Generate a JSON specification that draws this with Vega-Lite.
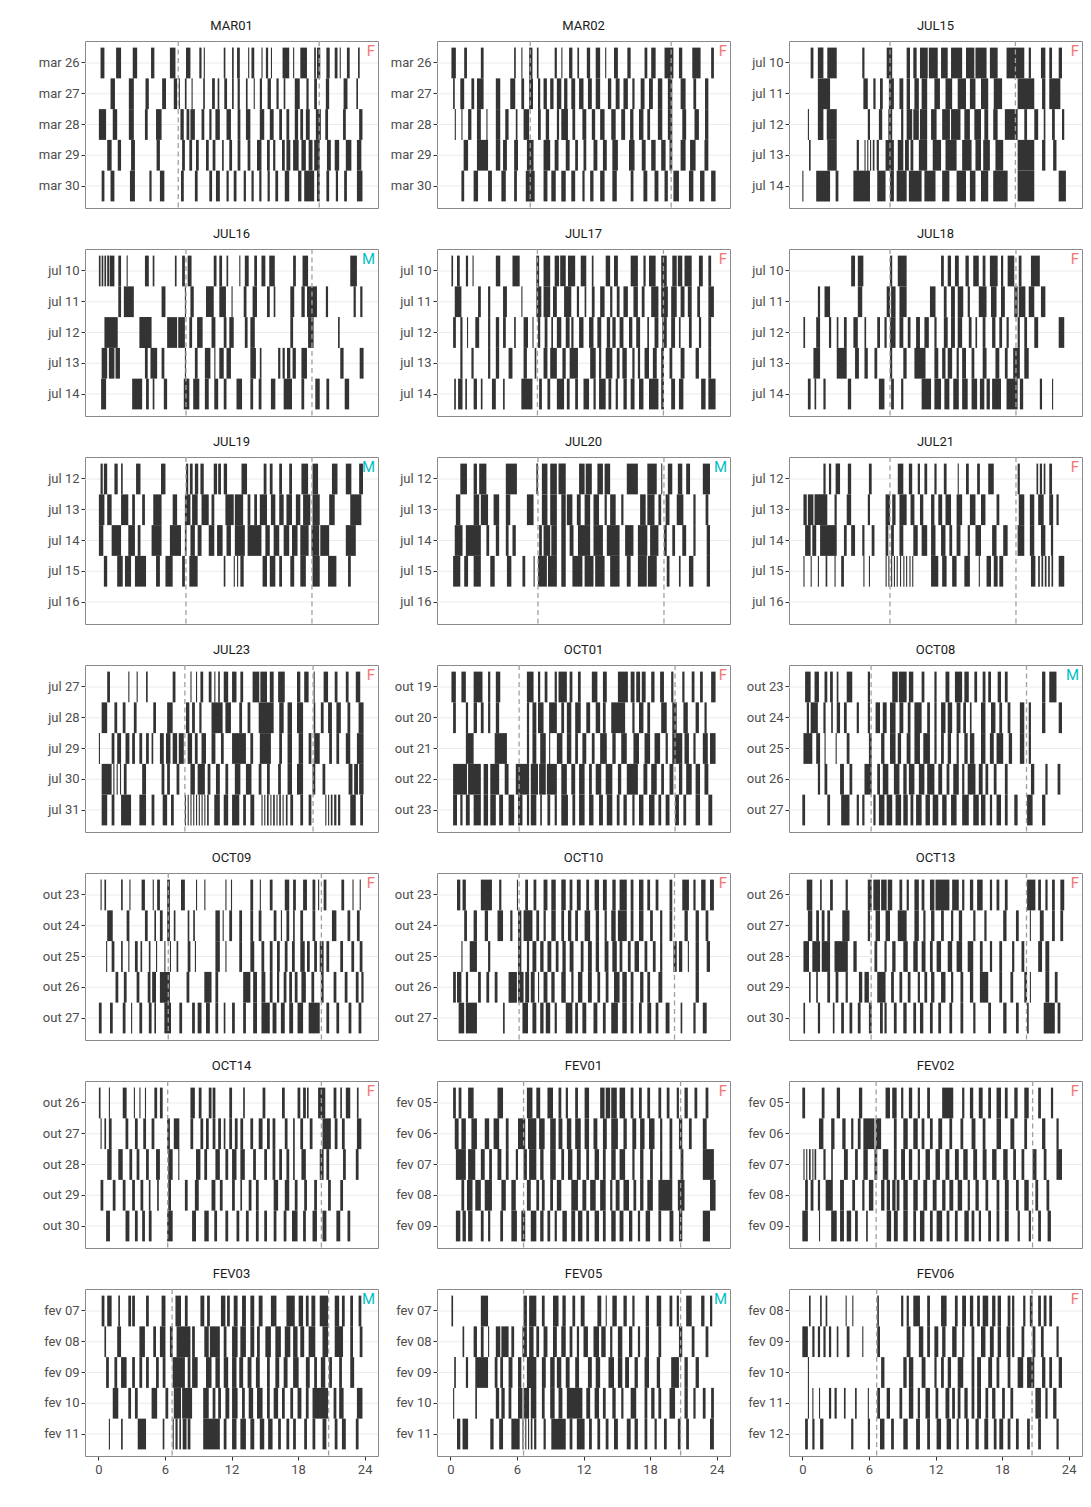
{
"$schema":"https://vega.github.io/schema/vega-lite/v6.json",
"background":"white",
"padding":{"left":37,"top":19,"right":5,"bottom":5},
"datasets":{
"days":[
{"k":11,"p":"MAR01","d":"mar 26"},{"k":12,"p":"MAR01","d":"mar 27"},{"k":13,"p":"MAR01","d":"mar 28"},{"k":14,"p":"MAR01","d":"mar 29"},{"k":15,"p":"MAR01","d":"mar 30"},
{"k":21,"p":"MAR02","d":"mar 26"},{"k":22,"p":"MAR02","d":"mar 27"},{"k":23,"p":"MAR02","d":"mar 28"},{"k":24,"p":"MAR02","d":"mar 29"},{"k":25,"p":"MAR02","d":"mar 30"},
{"k":31,"p":"JUL15","d":"jul 10"},{"k":32,"p":"JUL15","d":"jul 11"},{"k":33,"p":"JUL15","d":"jul 12"},{"k":34,"p":"JUL15","d":"jul 13"},{"k":35,"p":"JUL15","d":"jul 14"},
{"k":41,"p":"JUL16","d":"jul 10"},{"k":42,"p":"JUL16","d":"jul 11"},{"k":43,"p":"JUL16","d":"jul 12"},{"k":44,"p":"JUL16","d":"jul 13"},{"k":45,"p":"JUL16","d":"jul 14"},
{"k":51,"p":"JUL17","d":"jul 10"},{"k":52,"p":"JUL17","d":"jul 11"},{"k":53,"p":"JUL17","d":"jul 12"},{"k":54,"p":"JUL17","d":"jul 13"},{"k":55,"p":"JUL17","d":"jul 14"},
{"k":61,"p":"JUL18","d":"jul 10"},{"k":62,"p":"JUL18","d":"jul 11"},{"k":63,"p":"JUL18","d":"jul 12"},{"k":64,"p":"JUL18","d":"jul 13"},{"k":65,"p":"JUL18","d":"jul 14"},
{"k":71,"p":"JUL19","d":"jul 12"},{"k":72,"p":"JUL19","d":"jul 13"},{"k":73,"p":"JUL19","d":"jul 14"},{"k":74,"p":"JUL19","d":"jul 15"},{"k":75,"p":"JUL19","d":"jul 16"},
{"k":81,"p":"JUL20","d":"jul 12"},{"k":82,"p":"JUL20","d":"jul 13"},{"k":83,"p":"JUL20","d":"jul 14"},{"k":84,"p":"JUL20","d":"jul 15"},{"k":85,"p":"JUL20","d":"jul 16"},
{"k":91,"p":"JUL21","d":"jul 12"},{"k":92,"p":"JUL21","d":"jul 13"},{"k":93,"p":"JUL21","d":"jul 14"},{"k":94,"p":"JUL21","d":"jul 15"},{"k":95,"p":"JUL21","d":"jul 16"},
{"k":101,"p":"JUL23","d":"jul 27"},{"k":102,"p":"JUL23","d":"jul 28"},{"k":103,"p":"JUL23","d":"jul 29"},{"k":104,"p":"JUL23","d":"jul 30"},{"k":105,"p":"JUL23","d":"jul 31"},
{"k":111,"p":"OCT01","d":"out 19"},{"k":112,"p":"OCT01","d":"out 20"},{"k":113,"p":"OCT01","d":"out 21"},{"k":114,"p":"OCT01","d":"out 22"},{"k":115,"p":"OCT01","d":"out 23"},
{"k":121,"p":"OCT08","d":"out 23"},{"k":122,"p":"OCT08","d":"out 24"},{"k":123,"p":"OCT08","d":"out 25"},{"k":124,"p":"OCT08","d":"out 26"},{"k":125,"p":"OCT08","d":"out 27"},
{"k":131,"p":"OCT09","d":"out 23"},{"k":132,"p":"OCT09","d":"out 24"},{"k":133,"p":"OCT09","d":"out 25"},{"k":134,"p":"OCT09","d":"out 26"},{"k":135,"p":"OCT09","d":"out 27"},
{"k":141,"p":"OCT10","d":"out 23"},{"k":142,"p":"OCT10","d":"out 24"},{"k":143,"p":"OCT10","d":"out 25"},{"k":144,"p":"OCT10","d":"out 26"},{"k":145,"p":"OCT10","d":"out 27"},
{"k":151,"p":"OCT13","d":"out 26"},{"k":152,"p":"OCT13","d":"out 27"},{"k":153,"p":"OCT13","d":"out 28"},{"k":154,"p":"OCT13","d":"out 29"},{"k":155,"p":"OCT13","d":"out 30"},
{"k":161,"p":"OCT14","d":"out 26"},{"k":162,"p":"OCT14","d":"out 27"},{"k":163,"p":"OCT14","d":"out 28"},{"k":164,"p":"OCT14","d":"out 29"},{"k":165,"p":"OCT14","d":"out 30"},
{"k":171,"p":"FEV01","d":"fev 05"},{"k":172,"p":"FEV01","d":"fev 06"},{"k":173,"p":"FEV01","d":"fev 07"},{"k":174,"p":"FEV01","d":"fev 08"},{"k":175,"p":"FEV01","d":"fev 09"},
{"k":181,"p":"FEV02","d":"fev 05"},{"k":182,"p":"FEV02","d":"fev 06"},{"k":183,"p":"FEV02","d":"fev 07"},{"k":184,"p":"FEV02","d":"fev 08"},{"k":185,"p":"FEV02","d":"fev 09"},
{"k":191,"p":"FEV03","d":"fev 07"},{"k":192,"p":"FEV03","d":"fev 08"},{"k":193,"p":"FEV03","d":"fev 09"},{"k":194,"p":"FEV03","d":"fev 10"},{"k":195,"p":"FEV03","d":"fev 11"},
{"k":201,"p":"FEV05","d":"fev 07"},{"k":202,"p":"FEV05","d":"fev 08"},{"k":203,"p":"FEV05","d":"fev 09"},{"k":204,"p":"FEV05","d":"fev 10"},{"k":205,"p":"FEV05","d":"fev 11"},
{"k":211,"p":"FEV06","d":"fev 08"},{"k":212,"p":"FEV06","d":"fev 09"},{"k":213,"p":"FEV06","d":"fev 10"},{"k":214,"p":"FEV06","d":"fev 11"},{"k":215,"p":"FEV06","d":"fev 12"}
],
"main":[
{"k":11,"g":1,"s":"F"},{"k":12,"g":1},{"k":13,"g":1},{"k":14,"g":1},{"k":15,"g":1},
{"k":21,"g":1,"s":"F"},{"k":22,"g":1},{"k":23,"g":1},{"k":24,"g":1},{"k":25,"g":1},
{"k":31,"g":1,"s":"F"},{"k":32,"g":1},{"k":33,"g":1},{"k":34,"g":1},{"k":35,"g":1},
{"k":41,"g":1,"s":"M"},{"k":42,"g":1},{"k":43,"g":1},{"k":44,"g":1},{"k":45,"g":1},
{"k":51,"g":1,"s":"F"},{"k":52,"g":1},{"k":53,"g":1},{"k":54,"g":1},{"k":55,"g":1},
{"k":61,"g":1,"s":"F"},{"k":62,"g":1},{"k":63,"g":1},{"k":64,"g":1},{"k":65,"g":1},
{"k":71,"g":1,"s":"M"},{"k":72,"g":1},{"k":73,"g":1},{"k":74,"g":1},{"k":75,"g":1},
{"k":81,"g":1,"s":"M"},{"k":82,"g":1},{"k":83,"g":1},{"k":84,"g":1},{"k":85,"g":1},
{"k":91,"g":1,"s":"F"},{"k":92,"g":1},{"k":93,"g":1},{"k":94,"g":1},{"k":95,"g":1},
{"k":101,"g":1,"s":"F"},{"k":102,"g":1},{"k":103,"g":1},{"k":104,"g":1},{"k":105,"g":1},
{"k":111,"g":1,"s":"F"},{"k":112,"g":1},{"k":113,"g":1},{"k":114,"g":1},{"k":115,"g":1},
{"k":121,"g":1,"s":"M"},{"k":122,"g":1},{"k":123,"g":1},{"k":124,"g":1},{"k":125,"g":1},
{"k":131,"g":1,"s":"F"},{"k":132,"g":1},{"k":133,"g":1},{"k":134,"g":1},{"k":135,"g":1},
{"k":141,"g":1,"s":"F"},{"k":142,"g":1},{"k":143,"g":1},{"k":144,"g":1},{"k":145,"g":1},
{"k":151,"g":1,"s":"F"},{"k":152,"g":1},{"k":153,"g":1},{"k":154,"g":1},{"k":155,"g":1},
{"k":161,"g":1,"s":"F"},{"k":162,"g":1},{"k":163,"g":1},{"k":164,"g":1},{"k":165,"g":1},
{"k":171,"g":1,"s":"F"},{"k":172,"g":1},{"k":173,"g":1},{"k":174,"g":1},{"k":175,"g":1},
{"k":181,"g":1,"s":"F"},{"k":182,"g":1},{"k":183,"g":1},{"k":184,"g":1},{"k":185,"g":1},
{"k":191,"g":1,"s":"M"},{"k":192,"g":1},{"k":193,"g":1},{"k":194,"g":1},{"k":195,"g":1},
{"k":201,"g":1,"s":"M"},{"k":202,"g":1},{"k":203,"g":1},{"k":204,"g":1},{"k":205,"g":1},
{"k":211,"g":1,"s":"F"},{"k":212,"g":1},{"k":213,"g":1},{"k":214,"g":1},{"k":215,"g":1},
{"k":11,"r":7.2},{"k":11,"r":19.9},{"k":21,"r":7.2},{"k":21,"r":19.9},{"k":31,"r":7.9},{"k":31,"r":19.2},
{"k":41,"r":7.9},{"k":41,"r":19.25},{"k":51,"r":7.85},{"k":51,"r":19.2},{"k":61,"r":7.9},{"k":61,"r":19.25},
{"k":71,"r":7.9},{"k":71,"r":19.25},{"k":81,"r":7.9},{"k":81,"r":19.25},{"k":91,"r":7.9},{"k":91,"r":19.25},
{"k":101,"r":7.8},{"k":101,"r":19.35},{"k":111,"r":6.2},{"k":111,"r":20.25},{"k":121,"r":6.2},{"k":121,"r":20.2},
{"k":131,"r":6.3},{"k":131,"r":20.1},{"k":141,"r":6.2},{"k":141,"r":20.2},{"k":151,"r":6.2},{"k":151,"r":20.2},
{"k":161,"r":6.25},{"k":161,"r":20.1},{"k":171,"r":6.6},{"k":171,"r":20.75},{"k":181,"r":6.65},{"k":181,"r":20.75},
{"k":191,"r":6.65},{"k":191,"r":20.75},{"k":201,"r":6.6},{"k":201,"r":20.75},{"k":211,"r":6.7},{"k":211,"r":20.7},
{"k":11,"a":0.2,"b":0.55},{"k":11,"a":1.6,"b":2.05},{"k":11,"a":3.1,"b":3.5},{"k":11,"a":4.75,"b":5.05},{"k":11,"a":6.45,"b":6.95},{"k":11,"a":7.9,"b":8.3},{"k":11,"a":9.1,"b":9.3},{"k":11,"a":9.5,"b":9.6},{"k":11,"a":11.3,"b":11.45},{"k":11,"a":12.05,"b":12.2},{"k":11,"a":12.5,"b":12.75},{"k":11,"a":13.5,"b":13.6},{"k":11,"a":13.8,"b":14.05},{"k":11,"a":14.7,"b":14.8},{"k":11,"a":15.1,"b":15.3},{"k":11,"a":15.55,"b":15.65},{"k":11,"a":16.6,"b":17.2},{"k":11,"a":17.55,"b":17.65},{"k":11,"a":18.2,"b":18.8},{"k":11,"a":19.45,"b":19.6},{"k":11,"a":19.7,"b":20.0},{"k":11,"a":20.55,"b":20.85},{"k":11,"a":21.3,"b":21.55},{"k":11,"a":21.75,"b":21.85},{"k":11,"a":22.4,"b":22.65},{"k":11,"a":23.4,"b":23.55},
{"k":12,"a":1.1,"b":1.5},{"k":12,"a":2.75,"b":3.2},{"k":12,"a":4.25,"b":4.55},{"k":12,"a":5.75,"b":6.1},{"k":12,"a":6.8,"b":7.1},{"k":12,"a":7.25,"b":7.35},{"k":12,"a":7.8,"b":7.95},{"k":12,"a":8.4,"b":8.5},{"k":12,"a":9.45,"b":9.6},{"k":12,"a":10.25,"b":10.5},{"k":12,"a":10.75,"b":10.9},{"k":12,"a":11.35,"b":11.6},{"k":12,"a":12.05,"b":12.2},{"k":12,"a":12.55,"b":12.75},{"k":12,"a":13.3,"b":13.45},{"k":12,"a":14,"b":14.1},{"k":12,"a":14.55,"b":14.75},{"k":12,"a":15.25,"b":15.55},{"k":12,"a":16.05,"b":16.25},{"k":12,"a":16.7,"b":16.85},{"k":12,"a":17.7,"b":18.15},{"k":12,"a":18.75,"b":18.95},{"k":12,"a":19.45,"b":19.7},{"k":12,"a":20.5,"b":20.8},{"k":12,"a":22.1,"b":22.45},{"k":12,"a":23.25,"b":23.4},
{"k":13,"a":0.05,"b":0.7},{"k":13,"a":1.3,"b":1.7},{"k":13,"a":2.75,"b":3.2},{"k":13,"a":4.2,"b":4.45},{"k":13,"a":5.2,"b":5.7},{"k":13,"a":7.4,"b":7.7},{"k":13,"a":7.95,"b":8.2},{"k":13,"a":8.3,"b":8.7},{"k":13,"a":9.3,"b":9.55},{"k":13,"a":10,"b":10.2},{"k":13,"a":10.55,"b":10.95},{"k":13,"a":11.55,"b":11.95},{"k":13,"a":12.55,"b":12.8},{"k":13,"a":13.3,"b":13.7},{"k":13,"a":14.55,"b":14.95},{"k":13,"a":15.45,"b":15.8},{"k":13,"a":16.3,"b":16.55},{"k":13,"a":16.95,"b":17.2},{"k":13,"a":17.7,"b":18},{"k":13,"a":18.2,"b":18.45},{"k":13,"a":18.7,"b":19.05},{"k":13,"a":19.6,"b":20.05},{"k":13,"a":20.45,"b":20.7},{"k":13,"a":22.05,"b":22.3},{"k":13,"a":23.5,"b":23.8},
{"k":14,"a":0.8,"b":1.2},{"k":14,"a":1.75,"b":2.05},{"k":14,"a":2.95,"b":3.3},{"k":14,"a":5.25,"b":5.55},{"k":14,"a":7.55,"b":7.8},{"k":14,"a":8.2,"b":8.45},{"k":14,"a":8.8,"b":9.05},{"k":14,"a":9.7,"b":9.95},{"k":14,"a":10.3,"b":10.55},{"k":14,"a":11.15,"b":11.3},{"k":14,"a":11.8,"b":12.05},{"k":14,"a":12.55,"b":12.8},{"k":14,"a":13.45,"b":13.7},{"k":14,"a":14.3,"b":14.7},{"k":14,"a":15.2,"b":15.45},{"k":14,"a":15.75,"b":15.95},{"k":14,"a":16.55,"b":16.8},{"k":14,"a":16.95,"b":17.3},{"k":14,"a":17.55,"b":18.05},{"k":14,"a":18.3,"b":18.7},{"k":14,"a":18.95,"b":19.3},{"k":14,"a":19.45,"b":19.95},{"k":14,"a":20.6,"b":20.95},{"k":14,"a":21.3,"b":21.7},{"k":14,"a":22.3,"b":22.8},{"k":14,"a":23.3,"b":23.7},
{"k":15,"a":0.3,"b":0.55},{"k":15,"a":1.1,"b":1.45},{"k":15,"a":2.85,"b":3.3},{"k":15,"a":4.6,"b":4.8},{"k":15,"a":5.55,"b":5.95},{"k":15,"a":7.45,"b":7.7},{"k":15,"a":8.7,"b":8.95},{"k":15,"a":10,"b":10.25},{"k":15,"a":10.6,"b":10.95},{"k":15,"a":11.55,"b":11.75},{"k":15,"a":12.2,"b":12.45},{"k":15,"a":13.1,"b":13.3},{"k":15,"a":13.8,"b":14},{"k":15,"a":14.5,"b":14.7},{"k":15,"a":15.25,"b":15.45},{"k":15,"a":15.95,"b":16.2},{"k":15,"a":16.8,"b":17.2},{"k":15,"a":18,"b":18.3},{"k":15,"a":18.55,"b":19.45},{"k":15,"a":19.7,"b":19.95},{"k":15,"a":20.55,"b":20.8},{"k":15,"a":21.4,"b":21.6},{"k":15,"a":22.15,"b":22.4},{"k":15,"a":23.3,"b":23.8},
{"k":21,"a":0.1,"b":0.5},{"k":21,"a":1.25,"b":1.5},{"k":21,"a":2.75,"b":3},{"k":21,"a":5.75,"b":5.9},{"k":21,"a":6.4,"b":6.5},{"k":21,"a":7.1,"b":7.4},{"k":21,"a":7.8,"b":7.95},{"k":21,"a":9.4,"b":9.6},{"k":21,"a":10,"b":10.1},{"k":21,"a":10.7,"b":11},{"k":21,"a":11.45,"b":11.6},{"k":21,"a":12.3,"b":12.6},{"k":21,"a":13.1,"b":13.5},{"k":21,"a":13.95,"b":14.05},{"k":21,"a":14.75,"b":15.1},{"k":21,"a":15.95,"b":16.25},{"k":21,"a":17.5,"b":17.75},{"k":21,"a":18.1,"b":18.5},{"k":21,"a":19.3,"b":20.1},{"k":21,"a":20.6,"b":20.9},{"k":21,"a":21.8,"b":22.55},{"k":21,"a":23.5,"b":23.75},
{"k":22,"a":0.25,"b":0.4},{"k":22,"a":0.9,"b":1.25},{"k":22,"a":1.9,"b":2.15},{"k":22,"a":2.4,"b":3},{"k":22,"a":4.1,"b":4.5},{"k":22,"a":5.4,"b":5.85},{"k":22,"a":6.4,"b":6.65},{"k":22,"a":7.1,"b":7.45},{"k":22,"a":7.9,"b":8.1},{"k":22,"a":8.4,"b":8.7},{"k":22,"a":9,"b":9.3},{"k":22,"a":9.6,"b":10},{"k":22,"a":10.25,"b":10.55},{"k":22,"a":10.9,"b":11.25},{"k":22,"a":11.6,"b":12},{"k":22,"a":12.4,"b":12.75},{"k":22,"a":13.1,"b":13.5},{"k":22,"a":14.2,"b":14.5},{"k":22,"a":14.9,"b":15.25},{"k":22,"a":15.6,"b":16},{"k":22,"a":16.4,"b":16.6},{"k":22,"a":17.15,"b":17.5},{"k":22,"a":17.9,"b":18.25},{"k":22,"a":18.7,"b":19.1},{"k":22,"a":19.6,"b":20},{"k":22,"a":20.75,"b":21.2},{"k":22,"a":21.9,"b":22.15},{"k":22,"a":22.95,"b":23.25},
{"k":23,"a":0.4,"b":0.5},{"k":23,"a":1,"b":1.1},{"k":23,"a":1.6,"b":1.9},{"k":23,"a":2.4,"b":2.75},{"k":23,"a":3.25,"b":3.35},{"k":23,"a":4.1,"b":4.5},{"k":23,"a":4.95,"b":5.25},{"k":23,"a":5.9,"b":6.05},{"k":23,"a":6.6,"b":7.1},{"k":23,"a":7.9,"b":8.15},{"k":23,"a":8.6,"b":8.9},{"k":23,"a":9.6,"b":9.8},{"k":23,"a":10,"b":10.6},{"k":23,"a":11,"b":11.25},{"k":23,"a":11.9,"b":12.25},{"k":23,"a":12.75,"b":13.05},{"k":23,"a":13.5,"b":13.9},{"k":23,"a":14.5,"b":14.9},{"k":23,"a":15.4,"b":15.75},{"k":23,"a":16.2,"b":16.5},{"k":23,"a":17,"b":17.4},{"k":23,"a":17.75,"b":18},{"k":23,"a":18.7,"b":19.1},{"k":23,"a":19.6,"b":20},{"k":23,"a":20.9,"b":21.25},{"k":23,"a":22,"b":22.4},{"k":23,"a":22.95,"b":23.25},
{"k":24,"a":1.2,"b":1.6},{"k":24,"a":2.4,"b":3.4},{"k":24,"a":4.1,"b":4.5},{"k":24,"a":4.75,"b":5.1},{"k":24,"a":5.75,"b":6.1},{"k":24,"a":6.9,"b":7.5},{"k":24,"a":8.4,"b":9},{"k":24,"a":9.4,"b":9.75},{"k":24,"a":10.4,"b":10.75},{"k":24,"a":11.25,"b":11.5},{"k":24,"a":12,"b":12.25},{"k":24,"a":12.9,"b":13.25},{"k":24,"a":13.75,"b":14.1},{"k":24,"a":14.6,"b":15.1},{"k":24,"a":16.1,"b":16.6},{"k":24,"a":17.25,"b":17.6},{"k":24,"a":18.1,"b":18.5},{"k":24,"a":19,"b":19.4},{"k":24,"a":19.75,"b":20},{"k":24,"a":20.75,"b":21.2},{"k":24,"a":21.6,"b":22.1},{"k":24,"a":22.9,"b":23.25},
{"k":25,"a":1,"b":1.25},{"k":25,"a":2.1,"b":2.5},{"k":25,"a":3.4,"b":3.75},{"k":25,"a":4.6,"b":5},{"k":25,"a":5.75,"b":6},{"k":25,"a":6.8,"b":7.6},{"k":25,"a":8.4,"b":8.75},{"k":25,"a":9.1,"b":9.5},{"k":25,"a":10,"b":10.4},{"k":25,"a":10.9,"b":11.25},{"k":25,"a":11.9,"b":12.1},{"k":25,"a":12.6,"b":12.9},{"k":25,"a":13.5,"b":13.9},{"k":25,"a":14.6,"b":15},{"k":25,"a":16.25,"b":16.5},{"k":25,"a":17.4,"b":17.75},{"k":25,"a":18.4,"b":18.75},{"k":25,"a":19.3,"b":19.6},{"k":25,"a":20.1,"b":20.6},{"k":25,"a":21.5,"b":21.9},{"k":25,"a":22.5,"b":22.9},{"k":25,"a":23.5,"b":23.9},
{"k":31,"a":0.75,"b":1},{"k":31,"a":1.4,"b":1.9},{"k":31,"a":2.25,"b":3.1},{"k":31,"a":5.4,"b":5.6},{"k":31,"a":7.6,"b":8.1},{"k":31,"a":9.4,"b":9.7},{"k":31,"a":10,"b":10.3},{"k":31,"a":10.6,"b":11.3},{"k":31,"a":11.4,"b":12.2},{"k":31,"a":12.5,"b":13.1},{"k":31,"a":13.4,"b":14.4},{"k":31,"a":14.75,"b":15.5},{"k":31,"a":15.6,"b":16.6},{"k":31,"a":16.9,"b":17.6},{"k":31,"a":18.4,"b":20},{"k":31,"a":20.4,"b":20.6},{"k":31,"a":21.5,"b":21.9},{"k":31,"a":22.25,"b":22.5},{"k":31,"a":23.1,"b":23.4},
{"k":32,"a":1.4,"b":2.5},{"k":32,"a":5.5,"b":5.9},{"k":32,"a":6.4,"b":6.6},{"k":32,"a":7,"b":7.25},{"k":32,"a":7.8,"b":8.25},{"k":32,"a":8.75,"b":9.1},{"k":32,"a":9.4,"b":9.7},{"k":32,"a":10.1,"b":10.5},{"k":32,"a":10.75,"b":11.25},{"k":32,"a":11.9,"b":12.4},{"k":32,"a":12.9,"b":13.5},{"k":32,"a":14,"b":14.75},{"k":32,"a":15.1,"b":15.6},{"k":32,"a":16.1,"b":16.75},{"k":32,"a":17.25,"b":18},{"k":32,"a":19.4,"b":20.9},{"k":32,"a":21.6,"b":21.9},{"k":32,"a":22.25,"b":23.25},
{"k":33,"a":0.5,"b":0.6},{"k":33,"a":1.4,"b":1.9},{"k":33,"a":2.2,"b":3.1},{"k":33,"a":5.9,"b":6.1},{"k":33,"a":6.9,"b":7.2},{"k":33,"a":7.75,"b":8.1},{"k":33,"a":8.9,"b":9.1},{"k":33,"a":9.4,"b":9.9},{"k":33,"a":10,"b":10.5},{"k":33,"a":10.6,"b":11.25},{"k":33,"a":11.6,"b":12.1},{"k":33,"a":12.6,"b":13.3},{"k":33,"a":13.4,"b":14.25},{"k":33,"a":14.6,"b":15.1},{"k":33,"a":15.5,"b":16.1},{"k":33,"a":16.4,"b":16.75},{"k":33,"a":17.2,"b":17.6},{"k":33,"a":18.25,"b":19.4},{"k":33,"a":20,"b":20.25},{"k":33,"a":20.9,"b":21.25},{"k":33,"a":21.75,"b":21.9},{"k":33,"a":22.5,"b":22.75},{"k":33,"a":23.4,"b":23.6},
{"k":34,"a":0.6,"b":0.75},{"k":34,"a":2.25,"b":3.1},{"k":34,"a":4.9,"b":5.1},{"k":34,"a":5.6,"b":5.7},{"k":34,"a":5.85,"b":5.95},{"k":34,"a":6.1,"b":6.2},{"k":34,"a":6.35,"b":6.5},{"k":34,"a":6.7,"b":6.9},{"k":34,"a":7.5,"b":8.25},{"k":34,"a":8.6,"b":9.1},{"k":34,"a":9.25,"b":9.6},{"k":34,"a":9.75,"b":10},{"k":34,"a":10.5,"b":11.25},{"k":34,"a":11.75,"b":12.5},{"k":34,"a":12.9,"b":13.9},{"k":34,"a":14.4,"b":15.25},{"k":34,"a":15.6,"b":16.1},{"k":34,"a":16.3,"b":16.9},{"k":34,"a":17.4,"b":18.1},{"k":34,"a":19.4,"b":20.9},{"k":34,"a":21.6,"b":21.9},{"k":34,"a":22.6,"b":22.9},
{"k":35,"a":0,"b":0.1},{"k":35,"a":1.25,"b":2.5},{"k":35,"a":3,"b":3.25},{"k":35,"a":4.6,"b":6.1},{"k":35,"a":6.75,"b":7.5},{"k":35,"a":7.9,"b":8.25},{"k":35,"a":8.5,"b":9.4},{"k":35,"a":9.6,"b":10.75},{"k":35,"a":11,"b":12},{"k":35,"a":12.6,"b":13.25},{"k":35,"a":13.9,"b":14.75},{"k":35,"a":15.1,"b":15.6},{"k":35,"a":16.1,"b":16.75},{"k":35,"a":17.2,"b":18.5},{"k":35,"a":19.4,"b":20.9},{"k":35,"a":23.1,"b":23.75},
{"k":41,"a":0.05,"b":0.2},{"k":41,"a":0.3,"b":0.45},{"k":41,"a":0.55,"b":0.7},{"k":41,"a":0.8,"b":1},{"k":41,"a":1.05,"b":1.45},{"k":41,"a":1.8,"b":2.05},{"k":41,"a":2.55,"b":2.65},{"k":41,"a":4.2,"b":4.55},{"k":41,"a":4.9,"b":5.05},{"k":41,"a":6.9,"b":7.05},{"k":41,"a":7.55,"b":7.8},{"k":41,"a":8.05,"b":8.4},{"k":41,"a":10.4,"b":10.65},{"k":41,"a":10.9,"b":11.15},{"k":41,"a":11.55,"b":11.7},{"k":41,"a":12.7,"b":12.8},{"k":41,"a":13.2,"b":13.55},{"k":41,"a":14.05,"b":14.3},{"k":41,"a":14.7,"b":15.05},{"k":41,"a":15.4,"b":15.9},{"k":41,"a":17.55,"b":17.8},{"k":41,"a":18.4,"b":18.9},{"k":41,"a":22.7,"b":23.3},
{"k":42,"a":1.8,"b":2.05},{"k":42,"a":2.3,"b":3.2},{"k":42,"a":5.7,"b":6.05},{"k":42,"a":7.8,"b":7.9},{"k":42,"a":8.3,"b":8.6},{"k":42,"a":9.7,"b":10.4},{"k":42,"a":10.9,"b":11.5},{"k":42,"a":12,"b":12.1},{"k":42,"a":13.1,"b":13.35},{"k":42,"a":13.9,"b":14.3},{"k":42,"a":15.2,"b":15.45},{"k":42,"a":15.8,"b":15.95},{"k":42,"a":17.3,"b":17.65},{"k":42,"a":18.3,"b":18.6},{"k":42,"a":18.8,"b":19.7},{"k":42,"a":20.5,"b":20.7},{"k":42,"a":23,"b":23.2},{"k":42,"a":23.6,"b":23.8},
{"k":43,"a":0.55,"b":1.75},{"k":43,"a":3.7,"b":4.8},{"k":43,"a":6.2,"b":7.1},{"k":43,"a":7.2,"b":7.8},{"k":43,"a":8.2,"b":8.45},{"k":43,"a":8.9,"b":9.4},{"k":43,"a":10.2,"b":10.55},{"k":43,"a":11.3,"b":11.55},{"k":43,"a":11.8,"b":12.2},{"k":43,"a":13.2,"b":13.45},{"k":43,"a":13.7,"b":14.1},{"k":43,"a":17.3,"b":17.55},{"k":43,"a":18.9,"b":19.4},{"k":43,"a":21.6,"b":21.75},
{"k":44,"a":0.3,"b":0.8},{"k":44,"a":0.95,"b":1.45},{"k":44,"a":1.55,"b":1.95},{"k":44,"a":4.2,"b":4.45},{"k":44,"a":4.7,"b":5.3},{"k":44,"a":5.7,"b":5.95},{"k":44,"a":7.8,"b":7.9},{"k":44,"a":8.7,"b":8.95},{"k":44,"a":9.6,"b":10.1},{"k":44,"a":10.45,"b":10.55},{"k":44,"a":10.9,"b":11.3},{"k":44,"a":11.55,"b":11.95},{"k":44,"a":13.7,"b":14.2},{"k":44,"a":14.55,"b":14.7},{"k":44,"a":16.2,"b":16.4},{"k":44,"a":16.6,"b":16.8},{"k":44,"a":17,"b":17.3},{"k":44,"a":17.5,"b":17.8},{"k":44,"a":18.3,"b":18.8},{"k":44,"a":21.8,"b":22.1},{"k":44,"a":23.55,"b":23.9},
{"k":45,"a":0.25,"b":0.7},{"k":45,"a":3.05,"b":3.95},{"k":45,"a":4.3,"b":4.55},{"k":45,"a":4.9,"b":5.05},{"k":45,"a":5.9,"b":6.2},{"k":45,"a":7.7,"b":8.2},{"k":45,"a":8.55,"b":9.1},{"k":45,"a":9.6,"b":9.95},{"k":45,"a":10.45,"b":10.8},{"k":45,"a":11.3,"b":11.55},{"k":45,"a":12.45,"b":12.95},{"k":45,"a":13.7,"b":13.95},{"k":45,"a":14.45,"b":14.7},{"k":45,"a":15.55,"b":15.95},{"k":45,"a":16.7,"b":17.45},{"k":45,"a":18.3,"b":18.55},{"k":45,"a":19.55,"b":19.95},{"k":45,"a":20.55,"b":20.8},{"k":45,"a":22.2,"b":22.6},
{"k":51,"a":0.1,"b":0.25},{"k":51,"a":0.6,"b":0.85},{"k":51,"a":1.4,"b":1.6},{"k":51,"a":2,"b":2.1},{"k":51,"a":4.1,"b":4.5},{"k":51,"a":5.6,"b":6.25},{"k":51,"a":7.75,"b":8},{"k":51,"a":8.4,"b":9},{"k":51,"a":9.4,"b":9.8},{"k":51,"a":9.9,"b":10.4},{"k":51,"a":10.6,"b":11.25},{"k":51,"a":11.75,"b":12.25},{"k":51,"a":12.75,"b":12.9},{"k":51,"a":14,"b":14.4},{"k":51,"a":14.75,"b":15.1},{"k":51,"a":16.25,"b":16.9},{"k":51,"a":17.4,"b":17.6},{"k":51,"a":17.9,"b":18.5},{"k":51,"a":19,"b":19.5},{"k":51,"a":20,"b":20.4},{"k":51,"a":20.5,"b":20.9},{"k":51,"a":21.1,"b":21.75},{"k":51,"a":22.4,"b":22.75},{"k":51,"a":23.25,"b":23.5},
{"k":52,"a":0.4,"b":1},{"k":52,"a":2.5,"b":2.75},{"k":52,"a":3.4,"b":3.6},{"k":52,"a":4.75,"b":5.1},{"k":52,"a":6.4,"b":6.5},{"k":52,"a":7.75,"b":8.2},{"k":52,"a":8.4,"b":9},{"k":52,"a":9.25,"b":9.6},{"k":52,"a":10.25,"b":10.9},{"k":52,"a":11.4,"b":11.6},{"k":52,"a":12.1,"b":12.25},{"k":52,"a":12.75,"b":13},{"k":52,"a":13.5,"b":13.9},{"k":52,"a":14.4,"b":14.6},{"k":52,"a":15,"b":15.25},{"k":52,"a":15.6,"b":16},{"k":52,"a":16.5,"b":16.9},{"k":52,"a":17.25,"b":17.5},{"k":52,"a":18.1,"b":18.75},{"k":52,"a":19,"b":19.6},{"k":52,"a":19.9,"b":20.4},{"k":52,"a":20.75,"b":21.1},{"k":52,"a":21.4,"b":21.75},{"k":52,"a":22.25,"b":22.5},{"k":52,"a":23.25,"b":23.75},
{"k":53,"a":0.25,"b":0.5},{"k":53,"a":0.9,"b":1.1},{"k":53,"a":1.5,"b":1.6},{"k":53,"a":2.25,"b":2.6},{"k":53,"a":3.4,"b":3.6},{"k":53,"a":4.1,"b":4.4},{"k":53,"a":4.75,"b":5},{"k":53,"a":5.75,"b":5.9},{"k":53,"a":6.6,"b":7},{"k":53,"a":7.4,"b":7.5},{"k":53,"a":7.9,"b":8.1},{"k":53,"a":8.5,"b":8.75},{"k":53,"a":9.1,"b":9.25},{"k":53,"a":9.6,"b":10},{"k":53,"a":10.4,"b":10.75},{"k":53,"a":10.9,"b":11.1},{"k":53,"a":11.6,"b":12},{"k":53,"a":12.5,"b":12.9},{"k":53,"a":13.25,"b":13.6},{"k":53,"a":14.1,"b":14.4},{"k":53,"a":14.6,"b":14.9},{"k":53,"a":15.25,"b":15.6},{"k":53,"a":16.1,"b":16.4},{"k":53,"a":16.75,"b":17.1},{"k":53,"a":17.75,"b":17.9},{"k":53,"a":18.4,"b":18.75},{"k":53,"a":19.1,"b":19.5},{"k":53,"a":19.9,"b":20.25},{"k":53,"a":20.6,"b":20.75},{"k":53,"a":21.5,"b":21.75},{"k":53,"a":22.4,"b":22.6},{"k":53,"a":23.25,"b":23.5},
{"k":54,"a":0.9,"b":1.1},{"k":54,"a":1.9,"b":2.1},{"k":54,"a":3.4,"b":3.6},{"k":54,"a":4.1,"b":4.4},{"k":54,"a":5.25,"b":5.6},{"k":54,"a":6.6,"b":6.9},{"k":54,"a":7.6,"b":7.75},{"k":54,"a":8.4,"b":8.75},{"k":54,"a":9,"b":9.6},{"k":54,"a":10.1,"b":10.4},{"k":54,"a":10.75,"b":11.5},{"k":54,"a":12.6,"b":13.1},{"k":54,"a":13.4,"b":13.6},{"k":54,"a":14,"b":14.6},{"k":54,"a":15,"b":15.25},{"k":54,"a":15.5,"b":15.9},{"k":54,"a":16.4,"b":16.6},{"k":54,"a":16.9,"b":17.1},{"k":54,"a":17.5,"b":17.9},{"k":54,"a":18.25,"b":18.6},{"k":54,"a":19,"b":19.25},{"k":54,"a":19.75,"b":20},{"k":54,"a":20.75,"b":21.1},{"k":54,"a":22.1,"b":22.4},{"k":54,"a":23.25,"b":23.5},
{"k":55,"a":0.35,"b":0.5},{"k":55,"a":0.7,"b":1.1},{"k":55,"a":1.35,"b":1.5},{"k":55,"a":2.1,"b":2.4},{"k":55,"a":2.75,"b":2.9},{"k":55,"a":3.75,"b":4.1},{"k":55,"a":4.75,"b":4.9},{"k":55,"a":6.4,"b":7.4},{"k":55,"a":8,"b":8.25},{"k":55,"a":8.75,"b":9},{"k":55,"a":9.6,"b":10.25},{"k":55,"a":10.5,"b":10.75},{"k":55,"a":11.25,"b":11.5},{"k":55,"a":12,"b":12.5},{"k":55,"a":12.9,"b":13.1},{"k":55,"a":13.4,"b":14},{"k":55,"a":14.25,"b":14.5},{"k":55,"a":14.9,"b":15.1},{"k":55,"a":15.6,"b":15.9},{"k":55,"a":16.25,"b":16.6},{"k":55,"a":17,"b":17.4},{"k":55,"a":17.9,"b":18.75},{"k":55,"a":19,"b":19.25},{"k":55,"a":19.9,"b":20.25},{"k":55,"a":20.6,"b":21},{"k":55,"a":22.6,"b":23},{"k":55,"a":23.25,"b":23.9},
{"k":61,"a":4.4,"b":4.75},{"k":61,"a":5,"b":5.5},{"k":61,"a":7.9,"b":8.1},{"k":61,"a":8.6,"b":9.4},{"k":61,"a":12.5,"b":12.75},{"k":61,"a":13.1,"b":13.4},{"k":61,"a":13.75,"b":14.1},{"k":61,"a":14.7,"b":15},{"k":61,"a":15.4,"b":15.9},{"k":61,"a":16.25,"b":16.5},{"k":61,"a":16.9,"b":17.6},{"k":61,"a":17.9,"b":18.1},{"k":61,"a":18.5,"b":19.1},{"k":61,"a":19.5,"b":19.75},{"k":61,"a":20.6,"b":21.4},
{"k":62,"a":1.4,"b":1.6},{"k":62,"a":2,"b":2.5},{"k":62,"a":5,"b":5.4},{"k":62,"a":7.6,"b":7.9},{"k":62,"a":8,"b":8.4},{"k":62,"a":8.75,"b":9.4},{"k":62,"a":11.5,"b":12},{"k":62,"a":12.75,"b":13},{"k":62,"a":13.4,"b":13.75},{"k":62,"a":14,"b":14.5},{"k":62,"a":14.9,"b":15.1},{"k":62,"a":15.9,"b":16.6},{"k":62,"a":17,"b":17.5},{"k":62,"a":17.9,"b":18.25},{"k":62,"a":19.1,"b":19.4},{"k":62,"a":19.5,"b":20.1},{"k":62,"a":20.4,"b":20.9},{"k":62,"a":21.5,"b":21.9},
{"k":63,"a":0.1,"b":0.25},{"k":63,"a":1.25,"b":1.6},{"k":63,"a":2.4,"b":2.6},{"k":63,"a":3.1,"b":3.25},{"k":63,"a":3.75,"b":4},{"k":63,"a":4.6,"b":5},{"k":63,"a":5.6,"b":5.75},{"k":63,"a":6.75,"b":7},{"k":63,"a":7.4,"b":7.6},{"k":63,"a":7.9,"b":8.4},{"k":63,"a":8.75,"b":9.1},{"k":63,"a":9.5,"b":9.75},{"k":63,"a":10.25,"b":10.6},{"k":63,"a":11,"b":11.4},{"k":63,"a":11.9,"b":12.1},{"k":63,"a":12.75,"b":13.1},{"k":63,"a":13.4,"b":13.75},{"k":63,"a":14,"b":14.4},{"k":63,"a":15,"b":15.25},{"k":63,"a":15.6,"b":15.75},{"k":63,"a":16.25,"b":16.5},{"k":63,"a":17.1,"b":17.4},{"k":63,"a":17.75,"b":18},{"k":63,"a":18.4,"b":18.6},{"k":63,"a":19.4,"b":19.6},{"k":63,"a":20,"b":20.25},{"k":63,"a":20.9,"b":21.25},{"k":63,"a":23.1,"b":23.6},
{"k":64,"a":1,"b":1.6},{"k":64,"a":3.1,"b":4},{"k":64,"a":4.75,"b":5.1},{"k":64,"a":5.6,"b":5.9},{"k":64,"a":6.5,"b":6.75},{"k":64,"a":7.9,"b":8.1},{"k":64,"a":9.1,"b":9.4},{"k":64,"a":10.1,"b":11.1},{"k":64,"a":11.9,"b":12.25},{"k":64,"a":12.6,"b":12.9},{"k":64,"a":13.1,"b":13.5},{"k":64,"a":13.9,"b":14.1},{"k":64,"a":14.4,"b":14.75},{"k":64,"a":15.25,"b":15.5},{"k":64,"a":16.25,"b":16.6},{"k":64,"a":17.4,"b":17.75},{"k":64,"a":18.25,"b":18.5},{"k":64,"a":19,"b":19.6},{"k":64,"a":20,"b":20.4},
{"k":65,"a":0.5,"b":0.75},{"k":65,"a":1.1,"b":1.25},{"k":65,"a":1.9,"b":2.1},{"k":65,"a":4.1,"b":4.4},{"k":65,"a":6.9,"b":7.4},{"k":65,"a":8,"b":8.25},{"k":65,"a":8.9,"b":9.1},{"k":65,"a":10.75,"b":11.6},{"k":65,"a":11.9,"b":12.5},{"k":65,"a":12.8,"b":13.25},{"k":65,"a":13.6,"b":14.1},{"k":65,"a":14.4,"b":14.9},{"k":65,"a":15.25,"b":15.75},{"k":65,"a":16,"b":16.4},{"k":65,"a":16.6,"b":16.9},{"k":65,"a":17.1,"b":17.9},{"k":65,"a":18.4,"b":19.4},{"k":65,"a":19.6,"b":19.9},{"k":65,"a":21.4,"b":21.6},{"k":65,"a":22.5,"b":22.6},
{"k":71,"a":0.2,"b":0.4},{"k":71,"a":0.5,"b":0.8},{"k":71,"a":1.45,"b":1.75},{"k":71,"a":2.05,"b":2.2},{"k":71,"a":3.4,"b":3.8},{"k":71,"a":5.65,"b":6.05},{"k":71,"a":7.9,"b":8.1},{"k":71,"a":8.25,"b":8.5},{"k":71,"a":8.7,"b":9},{"k":71,"a":9.2,"b":9.5},{"k":71,"a":10.4,"b":10.7},{"k":71,"a":10.8,"b":11.05},{"k":71,"a":11.3,"b":11.6},{"k":71,"a":12.9,"b":13.4},{"k":71,"a":14.9,"b":15.15},{"k":71,"a":15.45,"b":15.7},{"k":71,"a":16.3,"b":16.55},{"k":71,"a":17.2,"b":17.45},{"k":71,"a":18.3,"b":18.9},{"k":71,"a":19.3,"b":19.8},{"k":71,"a":21.05,"b":21.55},{"k":71,"a":22.3,"b":22.8},{"k":71,"a":23.5,"b":23.85},
{"k":72,"a":0.05,"b":0.55},{"k":72,"a":0.8,"b":1.2},{"k":72,"a":2.05,"b":2.7},{"k":72,"a":3.05,"b":3.3},{"k":72,"a":3.95,"b":4.2},{"k":72,"a":4.95,"b":5.7},{"k":72,"a":6.7,"b":7.1},{"k":72,"a":7.8,"b":8.3},{"k":72,"a":8.45,"b":8.95},{"k":72,"a":9.3,"b":9.95},{"k":72,"a":10.2,"b":10.45},{"k":72,"a":11.45,"b":12.2},{"k":72,"a":12.3,"b":13.05},{"k":72,"a":13.45,"b":13.7},{"k":72,"a":14.05,"b":14.3},{"k":72,"a":14.55,"b":15.2},{"k":72,"a":15.55,"b":15.95},{"k":72,"a":16.3,"b":16.7},{"k":72,"a":16.95,"b":17.45},{"k":72,"a":17.8,"b":18.2},{"k":72,"a":18.45,"b":19.1},{"k":72,"a":19.3,"b":19.95},{"k":72,"a":20.8,"b":21.3},{"k":72,"a":22.7,"b":23.7},
{"k":73,"a":0.05,"b":0.45},{"k":73,"a":1.2,"b":2.05},{"k":73,"a":2.7,"b":3.3},{"k":73,"a":3.55,"b":3.8},{"k":73,"a":4.8,"b":5.7},{"k":73,"a":6.45,"b":7.45},{"k":73,"a":7.8,"b":7.95},{"k":73,"a":8.3,"b":8.7},{"k":73,"a":8.95,"b":9.3},{"k":73,"a":9.95,"b":10.45},{"k":73,"a":10.7,"b":11.2},{"k":73,"a":11.55,"b":11.95},{"k":73,"a":12.3,"b":13.2},{"k":73,"a":13.45,"b":14.7},{"k":73,"a":15.05,"b":15.45},{"k":73,"a":15.8,"b":16.3},{"k":73,"a":16.7,"b":17.2},{"k":73,"a":17.45,"b":17.95},{"k":73,"a":18.2,"b":18.95},{"k":73,"a":19.2,"b":19.9},{"k":73,"a":20,"b":20.8},{"k":73,"a":22.3,"b":23.2},
{"k":74,"a":0.5,"b":0.8},{"k":74,"a":1.7,"b":2.2},{"k":74,"a":2.4,"b":2.95},{"k":74,"a":3.3,"b":4.3},{"k":74,"a":5.2,"b":5.55},{"k":74,"a":6.05,"b":6.7},{"k":74,"a":7.55,"b":7.8},{"k":74,"a":8.2,"b":8.95},{"k":74,"a":11.3,"b":11.45},{"k":74,"a":12.2,"b":12.3},{"k":74,"a":12.5,"b":12.6},{"k":74,"a":12.8,"b":13.1},{"k":74,"a":14.8,"b":15.2},{"k":74,"a":15.45,"b":15.95},{"k":74,"a":16.3,"b":16.55},{"k":74,"a":17.3,"b":17.65},{"k":74,"a":18.2,"b":18.7},{"k":74,"a":19.3,"b":19.95},{"k":74,"a":20.7,"b":21.45},{"k":74,"a":22.5,"b":22.75},
{"k":81,"a":0.9,"b":1.5},{"k":81,"a":2.1,"b":2.4},{"k":81,"a":2.6,"b":3.25},{"k":81,"a":5,"b":6},{"k":81,"a":7.75,"b":7.9},{"k":81,"a":8.25,"b":8.75},{"k":81,"a":9,"b":9.6},{"k":81,"a":9.75,"b":10.4},{"k":81,"a":11.6,"b":12.1},{"k":81,"a":12.2,"b":12.75},{"k":81,"a":13.25,"b":13.75},{"k":81,"a":13.9,"b":14.4},{"k":81,"a":15.9,"b":16.9},{"k":81,"a":17.75,"b":18.6},{"k":81,"a":19,"b":19.1},{"k":81,"a":19.6,"b":20},{"k":81,"a":20.5,"b":20.9},{"k":81,"a":21.25,"b":21.6},{"k":81,"a":22.75,"b":23.4},
{"k":82,"a":0.5,"b":0.9},{"k":82,"a":2.1,"b":2.6},{"k":82,"a":2.75,"b":3.4},{"k":82,"a":3.9,"b":4.4},{"k":82,"a":5,"b":5.4},{"k":82,"a":6.9,"b":7.5},{"k":82,"a":8.25,"b":8.75},{"k":82,"a":9,"b":9.6},{"k":82,"a":10,"b":10.4},{"k":82,"a":10.5,"b":11},{"k":82,"a":11.4,"b":11.75},{"k":82,"a":12.1,"b":12.6},{"k":82,"a":12.9,"b":13.4},{"k":82,"a":13.9,"b":14.1},{"k":82,"a":14.4,"b":14.9},{"k":82,"a":15.4,"b":15.6},{"k":82,"a":17.1,"b":17.6},{"k":82,"a":17.75,"b":18.4},{"k":82,"a":18.75,"b":19},{"k":82,"a":19.4,"b":19.75},{"k":82,"a":20.4,"b":21},{"k":82,"a":21.9,"b":22.1},{"k":82,"a":23,"b":23.25},
{"k":83,"a":0.4,"b":1.1},{"k":83,"a":1.4,"b":2.75},{"k":83,"a":3.25,"b":3.5},{"k":83,"a":4.1,"b":4.4},{"k":83,"a":5,"b":5.25},{"k":83,"a":5.6,"b":5.9},{"k":83,"a":8,"b":8.25},{"k":83,"a":8.4,"b":9},{"k":83,"a":9.1,"b":9.6},{"k":83,"a":10,"b":10.4},{"k":83,"a":10.75,"b":11.1},{"k":83,"a":11.5,"b":12.6},{"k":83,"a":12.9,"b":13.75},{"k":83,"a":14.1,"b":15.25},{"k":83,"a":15.75,"b":16.5},{"k":83,"a":16.9,"b":17.75},{"k":83,"a":18,"b":18.75},{"k":83,"a":19.25,"b":19.5},{"k":83,"a":20,"b":20.25},{"k":83,"a":20.9,"b":21.25},{"k":83,"a":21.9,"b":22.1},{"k":83,"a":23.1,"b":23.4},
{"k":84,"a":0.25,"b":0.9},{"k":84,"a":1.25,"b":1.6},{"k":84,"a":2.1,"b":2.75},{"k":84,"a":3.6,"b":4},{"k":84,"a":5.1,"b":5.5},{"k":84,"a":6.5,"b":6.75},{"k":84,"a":7.5,"b":7.6},{"k":84,"a":7.9,"b":8.7},{"k":84,"a":8.8,"b":9.6},{"k":84,"a":10,"b":10.4},{"k":84,"a":11,"b":11.9},{"k":84,"a":12.1,"b":12.9},{"k":84,"a":13.05,"b":13.9},{"k":84,"a":14.4,"b":15.25},{"k":84,"a":15.9,"b":16.25},{"k":84,"a":16.9,"b":17.7},{"k":84,"a":17.8,"b":18.6},{"k":84,"a":19.5,"b":19.75},{"k":84,"a":20.6,"b":20.75},{"k":84,"a":21.5,"b":21.9},{"k":84,"a":23.1,"b":23.4},
{"k":91,"a":1.9,"b":2.1},{"k":91,"a":2.4,"b":2.6},{"k":91,"a":3,"b":3.4},{"k":91,"a":4.1,"b":4.4},{"k":91,"a":6,"b":6.25},{"k":91,"a":8.6,"b":9.1},{"k":91,"a":9.6,"b":9.9},{"k":91,"a":10.4,"b":10.6},{"k":91,"a":11,"b":11.25},{"k":91,"a":11.9,"b":12.1},{"k":91,"a":12.75,"b":13},{"k":91,"a":14,"b":14.1},{"k":91,"a":14.75,"b":15},{"k":91,"a":15.75,"b":16},{"k":91,"a":16.75,"b":17.25},{"k":91,"a":19.4,"b":19.6},{"k":91,"a":21.1,"b":21.25},{"k":91,"a":21.4,"b":21.6},{"k":91,"a":21.75,"b":21.9},{"k":91,"a":22.25,"b":22.5},
{"k":92,"a":0.1,"b":0.4},{"k":92,"a":0.5,"b":1},{"k":92,"a":1.1,"b":2.25},{"k":92,"a":2.9,"b":3.1},{"k":92,"a":4,"b":4.4},{"k":92,"a":5.9,"b":6.1},{"k":92,"a":7.5,"b":7.9},{"k":92,"a":8.1,"b":8.4},{"k":92,"a":8.75,"b":9.4},{"k":92,"a":9.75,"b":10.1},{"k":92,"a":10.6,"b":10.9},{"k":92,"a":11.6,"b":11.9},{"k":92,"a":12.25,"b":12.6},{"k":92,"a":12.9,"b":13.4},{"k":92,"a":13.9,"b":14.4},{"k":92,"a":15.1,"b":15.6},{"k":92,"a":16.1,"b":16.5},{"k":92,"a":17.5,"b":17.75},{"k":92,"a":19.5,"b":20},{"k":92,"a":20.5,"b":20.9},{"k":92,"a":21.25,"b":21.75},{"k":92,"a":22.25,"b":22.6},{"k":92,"a":22.9,"b":23.1},
{"k":93,"a":0.25,"b":0.75},{"k":93,"a":0.9,"b":1.25},{"k":93,"a":1.6,"b":3.1},{"k":93,"a":3.75,"b":4},{"k":93,"a":4.4,"b":4.75},{"k":93,"a":5.4,"b":5.6},{"k":93,"a":6.25,"b":6.5},{"k":93,"a":7.5,"b":7.75},{"k":93,"a":8,"b":8.25},{"k":93,"a":8.75,"b":9.1},{"k":93,"a":10,"b":10.4},{"k":93,"a":10.75,"b":11.25},{"k":93,"a":11.6,"b":12},{"k":93,"a":12.5,"b":12.9},{"k":93,"a":13.25,"b":13.5},{"k":93,"a":13.9,"b":14.25},{"k":93,"a":14.9,"b":15.1},{"k":93,"a":15.6,"b":16.1},{"k":93,"a":17.1,"b":17.5},{"k":93,"a":18.1,"b":18.5},{"k":93,"a":19.4,"b":20},{"k":93,"a":20.5,"b":20.9},{"k":93,"a":21.5,"b":21.9},{"k":93,"a":22.4,"b":22.6},
{"k":94,"a":0.1,"b":0.2},{"k":94,"a":0.75,"b":0.85},{"k":94,"a":1.4,"b":1.5},{"k":94,"a":2.1,"b":2.25},{"k":94,"a":2.9,"b":3},{"k":94,"a":3.5,"b":3.75},{"k":94,"a":5.5,"b":5.6},{"k":94,"a":6,"b":6.1},{"k":94,"a":7.5,"b":7.6},{"k":94,"a":7.75,"b":7.85},{"k":94,"a":8,"b":8.1},{"k":94,"a":8.25,"b":8.35},{"k":94,"a":8.5,"b":8.6},{"k":94,"a":8.8,"b":8.9},{"k":94,"a":9.1,"b":9.2},{"k":94,"a":9.35,"b":9.45},{"k":94,"a":9.65,"b":9.75},{"k":94,"a":9.9,"b":10},{"k":94,"a":11.6,"b":12.25},{"k":94,"a":12.6,"b":13},{"k":94,"a":13.5,"b":13.9},{"k":94,"a":14.6,"b":15.1},{"k":94,"a":15.9,"b":16},{"k":94,"a":16.6,"b":17},{"k":94,"a":17.25,"b":17.6},{"k":94,"a":17.75,"b":18.1},{"k":94,"a":20.6,"b":21},{"k":94,"a":21.25,"b":21.4},{"k":94,"a":21.55,"b":21.7},{"k":94,"a":21.85,"b":22},{"k":94,"a":22.15,"b":22.3},{"k":94,"a":22.45,"b":22.6},{"k":94,"a":23.1,"b":23.6},
{"k":101,"a":0.8,"b":1.05},{"k":101,"a":2.7,"b":2.8},{"k":101,"a":3.45,"b":3.55},{"k":101,"a":4.3,"b":4.45},{"k":101,"a":6.7,"b":6.95},{"k":101,"a":8.3,"b":8.4},{"k":101,"a":8.8,"b":8.9},{"k":101,"a":9.2,"b":9.45},{"k":101,"a":9.95,"b":10.2},{"k":101,"a":10.45,"b":10.55},{"k":101,"a":10.8,"b":10.95},{"k":101,"a":11.3,"b":11.7},{"k":101,"a":12.05,"b":12.45},{"k":101,"a":12.8,"b":13.05},{"k":101,"a":13.9,"b":14.5},{"k":101,"a":14.6,"b":15.2},{"k":101,"a":15.45,"b":15.8},{"k":101,"a":16.2,"b":16.8},{"k":101,"a":17.9,"b":18.2},{"k":101,"a":18.55,"b":18.95},{"k":101,"a":19.4,"b":19.5},{"k":101,"a":20.3,"b":20.7},{"k":101,"a":21.3,"b":21.55},{"k":101,"a":22.3,"b":22.55},{"k":101,"a":23.2,"b":23.6},
{"k":102,"a":0.3,"b":0.8},{"k":102,"a":1.45,"b":1.7},{"k":102,"a":2.2,"b":2.45},{"k":102,"a":3.2,"b":3.45},{"k":102,"a":4.95,"b":5.2},{"k":102,"a":6.2,"b":6.7},{"k":102,"a":7.9,"b":8.2},{"k":102,"a":8.45,"b":8.7},{"k":102,"a":9.1,"b":9.3},{"k":102,"a":10.2,"b":11.2},{"k":102,"a":11.45,"b":11.95},{"k":102,"a":12.7,"b":12.95},{"k":102,"a":13.45,"b":13.7},{"k":102,"a":14.45,"b":15.8},{"k":102,"a":16.3,"b":16.7},{"k":102,"a":17.05,"b":17.45},{"k":102,"a":17.9,"b":18.45},{"k":102,"a":19.4,"b":19.55},{"k":102,"a":20.05,"b":20.3},{"k":102,"a":20.7,"b":21.05},{"k":102,"a":21.45,"b":21.85},{"k":102,"a":22.45,"b":22.7},{"k":102,"a":23.45,"b":23.9},
{"k":103,"a":0.05,"b":0.15},{"k":103,"a":1.2,"b":1.45},{"k":103,"a":1.7,"b":2.05},{"k":103,"a":2.45,"b":2.8},{"k":103,"a":3.05,"b":3.3},{"k":103,"a":3.7,"b":3.95},{"k":103,"a":4.3,"b":4.55},{"k":103,"a":4.8,"b":4.95},{"k":103,"a":5.55,"b":5.9},{"k":103,"a":6.1,"b":6.5},{"k":103,"a":6.7,"b":7.1},{"k":103,"a":7.25,"b":7.7},{"k":103,"a":8.05,"b":8.45},{"k":103,"a":8.7,"b":8.95},{"k":103,"a":9.3,"b":9.7},{"k":103,"a":10.2,"b":10.55},{"k":103,"a":11.05,"b":11.3},{"k":103,"a":12.05,"b":13.3},{"k":103,"a":13.7,"b":13.95},{"k":103,"a":14.55,"b":15.55},{"k":103,"a":16.3,"b":16.55},{"k":103,"a":17.05,"b":17.45},{"k":103,"a":18.05,"b":18.45},{"k":103,"a":18.95,"b":19.2},{"k":103,"a":19.45,"b":19.95},{"k":103,"a":20.8,"b":21.05},{"k":103,"a":21.45,"b":21.7},{"k":103,"a":22.3,"b":22.7},{"k":103,"a":23.3,"b":23.9},
{"k":104,"a":0.3,"b":1.2},{"k":104,"a":1.35,"b":1.45},{"k":104,"a":1.65,"b":1.75},{"k":104,"a":1.95,"b":2.05},{"k":104,"a":2.3,"b":2.55},{"k":104,"a":3.95,"b":4.3},{"k":104,"a":5.7,"b":5.95},{"k":104,"a":6.2,"b":6.45},{"k":104,"a":7.05,"b":7.3},{"k":104,"a":8.3,"b":8.7},{"k":104,"a":8.95,"b":9.6},{"k":104,"a":9.85,"b":10.1},{"k":104,"a":10.6,"b":10.95},{"k":104,"a":11.45,"b":11.7},{"k":104,"a":12.3,"b":12.8},{"k":104,"a":13.3,"b":13.8},{"k":104,"a":14.45,"b":14.7},{"k":104,"a":15.2,"b":15.45},{"k":104,"a":16.2,"b":16.45},{"k":104,"a":17.05,"b":17.45},{"k":104,"a":17.9,"b":18.45},{"k":104,"a":19.3,"b":19.55},{"k":104,"a":20.2,"b":20.45},{"k":104,"a":22.55,"b":22.9},{"k":104,"a":23.05,"b":23.4},{"k":104,"a":23.5,"b":23.9},
{"k":105,"a":0.3,"b":0.8},{"k":105,"a":1.2,"b":1.45},{"k":105,"a":2.05,"b":2.95},{"k":105,"a":3.7,"b":4.3},{"k":105,"a":4.8,"b":5.05},{"k":105,"a":5.8,"b":6.2},{"k":105,"a":6.55,"b":6.8},{"k":105,"a":7.8,"b":7.9},{"k":105,"a":8.05,"b":8.15},{"k":105,"a":8.3,"b":8.4},{"k":105,"a":8.55,"b":8.65},{"k":105,"a":8.8,"b":8.9},{"k":105,"a":9.05,"b":9.15},{"k":105,"a":9.3,"b":9.4},{"k":105,"a":9.55,"b":9.65},{"k":105,"a":9.8,"b":9.95},{"k":105,"a":10.45,"b":10.95},{"k":105,"a":11.3,"b":11.7},{"k":105,"a":12.05,"b":12.7},{"k":105,"a":13.05,"b":13.3},{"k":105,"a":13.7,"b":14.05},{"k":105,"a":14.7,"b":14.8},{"k":105,"a":14.95,"b":15.05},{"k":105,"a":15.2,"b":15.35},{"k":105,"a":15.5,"b":15.6},{"k":105,"a":15.75,"b":15.9},{"k":105,"a":16.05,"b":16.15},{"k":105,"a":16.3,"b":16.45},{"k":105,"a":16.6,"b":16.7},{"k":105,"a":16.9,"b":17.05},{"k":105,"a":17.3,"b":17.55},{"k":105,"a":18.2,"b":18.45},{"k":105,"a":18.95,"b":19.2},{"k":105,"a":20.45,"b":20.55},{"k":105,"a":20.7,"b":20.8},{"k":105,"a":20.95,"b":21.1},{"k":105,"a":21.25,"b":21.45},{"k":105,"a":21.6,"b":21.8},{"k":105,"a":22.7,"b":23.2},{"k":105,"a":23.6,"b":23.85},
{"k":111,"a":0.1,"b":0.5},{"k":111,"a":1,"b":1.4},{"k":111,"a":2.1,"b":2.9},{"k":111,"a":3.4,"b":3.6},{"k":111,"a":4.1,"b":4.5},{"k":111,"a":6.9,"b":7.5},{"k":111,"a":7.9,"b":8.1},{"k":111,"a":8.5,"b":8.75},{"k":111,"a":9.4,"b":9.6},{"k":111,"a":9.75,"b":10.5},{"k":111,"a":10.75,"b":11},{"k":111,"a":11.5,"b":11.75},{"k":111,"a":12.75,"b":13.25},{"k":111,"a":13.75,"b":14.1},{"k":111,"a":15.1,"b":16},{"k":111,"a":16.25,"b":16.6},{"k":111,"a":16.75,"b":17.1},{"k":111,"a":17.25,"b":17.6},{"k":111,"a":18.1,"b":18.4},{"k":111,"a":18.9,"b":19.25},{"k":111,"a":19.9,"b":20.1},{"k":111,"a":20.9,"b":21.1},{"k":111,"a":21.75,"b":22},{"k":111,"a":22.5,"b":22.75},{"k":111,"a":23.5,"b":23.9},
{"k":112,"a":0.25,"b":0.5},{"k":112,"a":1.4,"b":1.6},{"k":112,"a":2.1,"b":2.4},{"k":112,"a":2.75,"b":3},{"k":112,"a":3.4,"b":3.6},{"k":112,"a":4.1,"b":4.4},{"k":112,"a":6.9,"b":7.1},{"k":112,"a":7.4,"b":7.75},{"k":112,"a":7.9,"b":8.4},{"k":112,"a":8.9,"b":9.6},{"k":112,"a":10,"b":10.25},{"k":112,"a":10.5,"b":10.9},{"k":112,"a":11.25,"b":11.75},{"k":112,"a":12.25,"b":12.6},{"k":112,"a":13.1,"b":13.5},{"k":112,"a":13.75,"b":14},{"k":112,"a":14.5,"b":15.75},{"k":112,"a":16.4,"b":16.6},{"k":112,"a":17,"b":17.4},{"k":112,"a":17.75,"b":18},{"k":112,"a":19,"b":19.5},{"k":112,"a":20,"b":20.4},{"k":112,"a":21,"b":21.4},{"k":112,"a":22.1,"b":22.4},{"k":112,"a":22.9,"b":23.1},
{"k":113,"a":1.4,"b":2.1},{"k":113,"a":4,"b":5.1},{"k":113,"a":6.9,"b":7.1},{"k":113,"a":7.4,"b":7.75},{"k":113,"a":8.1,"b":8.6},{"k":113,"a":8.9,"b":9},{"k":113,"a":9.6,"b":10.1},{"k":113,"a":10.5,"b":10.9},{"k":113,"a":11.25,"b":11.5},{"k":113,"a":11.9,"b":12.25},{"k":113,"a":12.75,"b":13},{"k":113,"a":13.5,"b":14.1},{"k":113,"a":14.6,"b":14.9},{"k":113,"a":15.4,"b":15.9},{"k":113,"a":16.5,"b":17},{"k":113,"a":17.5,"b":18},{"k":113,"a":18.4,"b":18.9},{"k":113,"a":19.4,"b":19.6},{"k":113,"a":20,"b":20.9},{"k":113,"a":21.1,"b":21.5},{"k":113,"a":21.9,"b":22.1},{"k":113,"a":22.75,"b":23.2},{"k":113,"a":23.4,"b":23.9},
{"k":114,"a":0.25,"b":1.5},{"k":114,"a":1.6,"b":2.75},{"k":114,"a":3,"b":3.4},{"k":114,"a":3.6,"b":4.4},{"k":114,"a":4.9,"b":5.25},{"k":114,"a":5.9,"b":7.1},{"k":114,"a":7.25,"b":7.9},{"k":114,"a":8,"b":8.6},{"k":114,"a":8.7,"b":9.6},{"k":114,"a":10,"b":10.5},{"k":114,"a":10.9,"b":11.25},{"k":114,"a":11.6,"b":12.1},{"k":114,"a":12.5,"b":12.75},{"k":114,"a":13.1,"b":13.6},{"k":114,"a":14,"b":14.6},{"k":114,"a":15.1,"b":15.4},{"k":114,"a":15.9,"b":16.9},{"k":114,"a":17.4,"b":17.75},{"k":114,"a":18.1,"b":18.6},{"k":114,"a":19,"b":19.25},{"k":114,"a":19.75,"b":20.1},{"k":114,"a":20.6,"b":20.9},{"k":114,"a":21.25,"b":21.75},{"k":114,"a":22.1,"b":22.5},{"k":114,"a":22.9,"b":23.25},
{"k":115,"a":0.25,"b":0.6},{"k":115,"a":0.9,"b":1.1},{"k":115,"a":1.4,"b":1.75},{"k":115,"a":2.1,"b":2.75},{"k":115,"a":3,"b":3.4},{"k":115,"a":3.6,"b":4.1},{"k":115,"a":4.4,"b":4.75},{"k":115,"a":5.25,"b":5.75},{"k":115,"a":6.1,"b":6.5},{"k":115,"a":6.9,"b":7.1},{"k":115,"a":7.25,"b":7.75},{"k":115,"a":8.1,"b":8.25},{"k":115,"a":8.75,"b":9},{"k":115,"a":9.4,"b":9.6},{"k":115,"a":10,"b":10.6},{"k":115,"a":11,"b":11.25},{"k":115,"a":11.6,"b":12.1},{"k":115,"a":12.5,"b":12.9},{"k":115,"a":13.4,"b":13.75},{"k":115,"a":14.1,"b":14.6},{"k":115,"a":15,"b":15.25},{"k":115,"a":15.6,"b":15.9},{"k":115,"a":16.4,"b":16.6},{"k":115,"a":17,"b":17.4},{"k":115,"a":17.9,"b":18.4},{"k":115,"a":18.75,"b":19},{"k":115,"a":19.4,"b":19.75},{"k":115,"a":20.25,"b":20.6},{"k":115,"a":21,"b":21.25},{"k":115,"a":22.1,"b":22.5},{"k":115,"a":23.25,"b":23.6},
{"k":121,"a":0.25,"b":0.75},{"k":121,"a":1.1,"b":1.5},{"k":121,"a":2,"b":2.25},{"k":121,"a":2.5,"b":2.75},{"k":121,"a":3.1,"b":3.25},{"k":121,"a":4,"b":4.5},{"k":121,"a":5.9,"b":6.1},{"k":121,"a":8.1,"b":8.6},{"k":121,"a":8.7,"b":9.4},{"k":121,"a":9.6,"b":10},{"k":121,"a":10.75,"b":11},{"k":121,"a":11.9,"b":12.1},{"k":121,"a":12.9,"b":13.25},{"k":121,"a":13.75,"b":14.4},{"k":121,"a":14.6,"b":15},{"k":121,"a":15.5,"b":15.75},{"k":121,"a":16.25,"b":16.5},{"k":121,"a":16.75,"b":17},{"k":121,"a":17.6,"b":17.9},{"k":121,"a":18.25,"b":18.5},{"k":121,"a":21.6,"b":21.9},{"k":121,"a":22.25,"b":22.9},
{"k":122,"a":0.4,"b":0.6},{"k":122,"a":0.75,"b":1.4},{"k":122,"a":1.9,"b":2.1},{"k":122,"a":2.6,"b":2.75},{"k":122,"a":3.1,"b":3.4},{"k":122,"a":3.75,"b":4},{"k":122,"a":4.9,"b":5.1},{"k":122,"a":5.9,"b":6.1},{"k":122,"a":6.6,"b":7},{"k":122,"a":7.25,"b":7.6},{"k":122,"a":7.9,"b":8.4},{"k":122,"a":8.75,"b":9.1},{"k":122,"a":9.5,"b":9.75},{"k":122,"a":10.1,"b":10.75},{"k":122,"a":11.25,"b":11.5},{"k":122,"a":11.9,"b":12.1},{"k":122,"a":12.5,"b":12.9},{"k":122,"a":13.1,"b":13.5},{"k":122,"a":13.9,"b":14.25},{"k":122,"a":14.5,"b":14.75},{"k":122,"a":15.1,"b":15.25},{"k":122,"a":16.1,"b":16.5},{"k":122,"a":17,"b":17.4},{"k":122,"a":17.75,"b":18},{"k":122,"a":18.5,"b":18.75},{"k":122,"a":19.6,"b":20},{"k":122,"a":20.4,"b":20.6},{"k":122,"a":21.6,"b":21.9},{"k":122,"a":23.1,"b":23.4},
{"k":123,"a":0.1,"b":0.9},{"k":123,"a":1.25,"b":1.6},{"k":123,"a":2,"b":2.1},{"k":123,"a":3,"b":3.1},{"k":123,"a":4,"b":4.25},{"k":123,"a":6,"b":6.25},{"k":123,"a":7.1,"b":7.4},{"k":123,"a":7.9,"b":8.4},{"k":123,"a":8.6,"b":8.9},{"k":123,"a":9.4,"b":9.75},{"k":123,"a":10.1,"b":10.6},{"k":123,"a":10.9,"b":11.5},{"k":123,"a":11.9,"b":12.1},{"k":123,"a":12.5,"b":12.75},{"k":123,"a":13.1,"b":13.4},{"k":123,"a":13.9,"b":14.1},{"k":123,"a":14.6,"b":14.9},{"k":123,"a":15.1,"b":15.5},{"k":123,"a":16.1,"b":16.5},{"k":123,"a":16.9,"b":17.25},{"k":123,"a":17.5,"b":18.1},{"k":123,"a":18.6,"b":18.9},{"k":123,"a":19.6,"b":20},{"k":123,"a":20.4,"b":20.6},
{"k":124,"a":1.4,"b":1.6},{"k":124,"a":2,"b":2.25},{"k":124,"a":3.4,"b":3.75},{"k":124,"a":4.25,"b":4.5},{"k":124,"a":5.6,"b":6.25},{"k":124,"a":6.75,"b":7},{"k":124,"a":7.25,"b":7.75},{"k":124,"a":8.25,"b":8.75},{"k":124,"a":9.1,"b":9.4},{"k":124,"a":9.6,"b":10.1},{"k":124,"a":10.5,"b":11},{"k":124,"a":11.25,"b":11.9},{"k":124,"a":12.25,"b":12.6},{"k":124,"a":13,"b":13.25},{"k":124,"a":13.6,"b":14.1},{"k":124,"a":14.4,"b":14.6},{"k":124,"a":14.9,"b":15.6},{"k":124,"a":15.9,"b":16.25},{"k":124,"a":16.5,"b":16.75},{"k":124,"a":17.25,"b":17.5},{"k":124,"a":18.25,"b":18.5},{"k":124,"a":20.6,"b":20.9},{"k":124,"a":21.9,"b":22.1},{"k":124,"a":23,"b":23.25},
{"k":125,"a":0,"b":0.25},{"k":125,"a":2.25,"b":2.5},{"k":125,"a":3.5,"b":4.25},{"k":125,"a":4.9,"b":5.1},{"k":125,"a":5.4,"b":5.6},{"k":125,"a":6.4,"b":6.6},{"k":125,"a":6.9,"b":7.4},{"k":125,"a":7.6,"b":8.1},{"k":125,"a":8.4,"b":8.9},{"k":125,"a":9.1,"b":9.5},{"k":125,"a":9.75,"b":10},{"k":125,"a":10.25,"b":10.75},{"k":125,"a":11.1,"b":11.5},{"k":125,"a":11.75,"b":12.25},{"k":125,"a":12.6,"b":13},{"k":125,"a":13.4,"b":13.9},{"k":125,"a":14.4,"b":15},{"k":125,"a":15.4,"b":15.9},{"k":125,"a":16.1,"b":16.5},{"k":125,"a":16.9,"b":17.1},{"k":125,"a":17.5,"b":17.9},{"k":125,"a":18.25,"b":18.5},{"k":125,"a":19.1,"b":19.4},{"k":125,"a":20.25,"b":20.75},{"k":125,"a":21.6,"b":21.9},
{"k":131,"a":0.2,"b":0.3},{"k":131,"a":0.55,"b":0.7},{"k":131,"a":2.05,"b":2.2},{"k":131,"a":2.8,"b":2.9},{"k":131,"a":3.9,"b":4.2},{"k":131,"a":4.9,"b":5},{"k":131,"a":5.3,"b":5.55},{"k":131,"a":6.2,"b":6.45},{"k":131,"a":7.45,"b":7.8},{"k":131,"a":8.8,"b":8.9},{"k":131,"a":9.55,"b":9.65},{"k":131,"a":11.45,"b":11.55},{"k":131,"a":11.95,"b":12.05},{"k":131,"a":13.7,"b":13.95},{"k":131,"a":14.55,"b":14.65},{"k":131,"a":15.45,"b":15.7},{"k":131,"a":16.8,"b":17.2},{"k":131,"a":17.55,"b":17.8},{"k":131,"a":18.45,"b":18.8},{"k":131,"a":19.3,"b":19.55},{"k":131,"a":19.8,"b":19.9},{"k":131,"a":20.3,"b":20.55},{"k":131,"a":21.9,"b":22.15},{"k":131,"a":22.9,"b":23},{"k":131,"a":23.55,"b":23.65},
{"k":132,"a":0.8,"b":1.3},{"k":132,"a":2.55,"b":2.8},{"k":132,"a":4.2,"b":4.45},{"k":132,"a":5.05,"b":5.2},{"k":132,"a":5.55,"b":5.8},{"k":132,"a":6.2,"b":6.45},{"k":132,"a":6.8,"b":6.95},{"k":132,"a":8.05,"b":8.2},{"k":132,"a":8.55,"b":8.7},{"k":132,"a":10.55,"b":10.95},{"k":132,"a":11.2,"b":11.3},{"k":132,"a":11.8,"b":12.05},{"k":132,"a":12.7,"b":12.95},{"k":132,"a":13.7,"b":13.95},{"k":132,"a":14.45,"b":14.7},{"k":132,"a":15.8,"b":16.05},{"k":132,"a":16.45,"b":16.55},{"k":132,"a":16.95,"b":17.2},{"k":132,"a":17.55,"b":17.7},{"k":132,"a":18.2,"b":18.45},{"k":132,"a":19.3,"b":19.55},{"k":132,"a":21.05,"b":21.45},{"k":132,"a":22.45,"b":22.7},{"k":132,"a":23.3,"b":23.55},
{"k":133,"a":0.7,"b":0.8},{"k":133,"a":1.2,"b":1.45},{"k":133,"a":2.05,"b":2.2},{"k":133,"a":2.7,"b":2.8},{"k":133,"a":3.3,"b":3.55},{"k":133,"a":3.8,"b":3.95},{"k":133,"a":4.55,"b":4.7},{"k":133,"a":5.2,"b":5.3},{"k":133,"a":5.95,"b":6.05},{"k":133,"a":6.45,"b":6.55},{"k":133,"a":7.05,"b":7.2},{"k":133,"a":8.05,"b":8.3},{"k":133,"a":8.7,"b":8.8},{"k":133,"a":10.55,"b":10.95},{"k":133,"a":11.45,"b":11.55},{"k":133,"a":12.7,"b":12.95},{"k":133,"a":13.7,"b":14.05},{"k":133,"a":14.7,"b":14.95},{"k":133,"a":15.45,"b":15.7},{"k":133,"a":16.1,"b":16.35},{"k":133,"a":16.8,"b":17.05},{"k":133,"a":17.45,"b":17.7},{"k":133,"a":18.2,"b":18.6},{"k":133,"a":18.8,"b":19.05},{"k":133,"a":19.45,"b":19.7},{"k":133,"a":19.95,"b":20.3},{"k":133,"a":20.55,"b":20.8},{"k":133,"a":21.8,"b":22.05},{"k":133,"a":22.8,"b":23.05},{"k":133,"a":23.55,"b":23.8},
{"k":134,"a":1.55,"b":1.8},{"k":134,"a":2.3,"b":2.55},{"k":134,"a":3.45,"b":3.7},{"k":134,"a":4.45,"b":4.7},{"k":134,"a":4.85,"b":5.2},{"k":134,"a":5.55,"b":6.45},{"k":134,"a":7.95,"b":8.2},{"k":134,"a":9.55,"b":10.2},{"k":134,"a":10.55,"b":10.8},{"k":134,"a":13.05,"b":13.7},{"k":134,"a":13.95,"b":14.3},{"k":134,"a":14.7,"b":15.05},{"k":134,"a":15.45,"b":15.7},{"k":134,"a":16.1,"b":16.3},{"k":134,"a":16.7,"b":16.95},{"k":134,"a":17.2,"b":17.45},{"k":134,"a":17.7,"b":17.95},{"k":134,"a":18.3,"b":18.7},{"k":134,"a":19.2,"b":19.45},{"k":134,"a":20.05,"b":20.3},{"k":134,"a":21.2,"b":21.45},{"k":134,"a":22.2,"b":22.45},{"k":134,"a":23.2,"b":23.45},{"k":134,"a":23.7,"b":23.9},
{"k":135,"a":0.05,"b":0.3},{"k":135,"a":1.05,"b":1.3},{"k":135,"a":2.2,"b":2.45},{"k":135,"a":2.95,"b":3.05},{"k":135,"a":3.7,"b":3.95},{"k":135,"a":4.55,"b":4.8},{"k":135,"a":5.05,"b":5.2},{"k":135,"a":5.95,"b":6.55},{"k":135,"a":7.3,"b":7.55},{"k":135,"a":8.45,"b":8.7},{"k":135,"a":8.95,"b":9.3},{"k":135,"a":9.7,"b":10.05},{"k":135,"a":10.55,"b":10.8},{"k":135,"a":11.3,"b":11.45},{"k":135,"a":12.05,"b":12.3},{"k":135,"a":13.05,"b":13.3},{"k":135,"a":13.95,"b":14.3},{"k":135,"a":14.7,"b":15.45},{"k":135,"a":15.7,"b":16.05},{"k":135,"a":16.45,"b":16.8},{"k":135,"a":17.2,"b":17.55},{"k":135,"a":17.95,"b":18.45},{"k":135,"a":18.95,"b":19.95},{"k":135,"a":20.55,"b":20.8},{"k":135,"a":21.45,"b":21.7},{"k":135,"a":22.55,"b":22.8},{"k":135,"a":23.45,"b":23.7},
{"k":141,"a":0.6,"b":0.9},{"k":141,"a":1.1,"b":1.4},{"k":141,"a":2.75,"b":3.75},{"k":141,"a":4.4,"b":4.6},{"k":141,"a":6,"b":6.1},{"k":141,"a":6.75,"b":7},{"k":141,"a":7.5,"b":7.75},{"k":141,"a":8.4,"b":8.75},{"k":141,"a":9.1,"b":9.5},{"k":141,"a":10,"b":10.4},{"k":141,"a":10.75,"b":11},{"k":141,"a":11.4,"b":11.75},{"k":141,"a":12.25,"b":12.5},{"k":141,"a":13,"b":13.4},{"k":141,"a":13.75,"b":14.1},{"k":141,"a":14.6,"b":14.9},{"k":141,"a":15.25,"b":15.9},{"k":141,"a":16.25,"b":16.5},{"k":141,"a":17,"b":17.4},{"k":141,"a":17.75,"b":18},{"k":141,"a":18.5,"b":18.75},{"k":141,"a":19.75,"b":20},{"k":141,"a":20.9,"b":21.5},{"k":141,"a":21.9,"b":22.1},{"k":141,"a":22.6,"b":23},{"k":141,"a":23.4,"b":23.75},
{"k":142,"a":1.25,"b":1.5},{"k":142,"a":2.1,"b":2.4},{"k":142,"a":3.1,"b":3.4},{"k":142,"a":4.25,"b":4.75},{"k":142,"a":5.4,"b":5.6},{"k":142,"a":6.1,"b":6.4},{"k":142,"a":6.6,"b":7.4},{"k":142,"a":7.75,"b":8},{"k":142,"a":8.4,"b":8.6},{"k":142,"a":9.1,"b":9.5},{"k":142,"a":10,"b":10.25},{"k":142,"a":10.6,"b":10.9},{"k":142,"a":11.25,"b":11.5},{"k":142,"a":12.1,"b":12.6},{"k":142,"a":13.1,"b":13.4},{"k":142,"a":13.9,"b":14.1},{"k":142,"a":14.5,"b":14.9},{"k":142,"a":15.1,"b":15.9},{"k":142,"a":16.25,"b":16.5},{"k":142,"a":17,"b":17.4},{"k":142,"a":18,"b":18.25},{"k":142,"a":18.9,"b":19.1},{"k":142,"a":19.75,"b":20},{"k":142,"a":21.1,"b":21.4},{"k":142,"a":22.1,"b":22.4},{"k":142,"a":23,"b":23.25},
{"k":143,"a":1,"b":1.1},{"k":143,"a":1.75,"b":2.4},{"k":143,"a":3.4,"b":3.6},{"k":143,"a":6.1,"b":6.4},{"k":143,"a":6.9,"b":7.1},{"k":143,"a":7.4,"b":7.75},{"k":143,"a":8.1,"b":8.4},{"k":143,"a":8.75,"b":9.1},{"k":143,"a":9.5,"b":9.75},{"k":143,"a":10.1,"b":10.4},{"k":143,"a":10.75,"b":11.1},{"k":143,"a":11.75,"b":12},{"k":143,"a":12.4,"b":12.75},{"k":143,"a":13.1,"b":13.4},{"k":143,"a":13.9,"b":14.25},{"k":143,"a":14.6,"b":15},{"k":143,"a":15.25,"b":15.5},{"k":143,"a":16,"b":16.25},{"k":143,"a":16.6,"b":17},{"k":143,"a":17.5,"b":17.75},{"k":143,"a":18.25,"b":18.5},{"k":143,"a":18.9,"b":19.1},{"k":143,"a":20.1,"b":20.4},{"k":143,"a":20.6,"b":20.9},{"k":143,"a":21.4,"b":21.5},{"k":143,"a":22.1,"b":22.4},{"k":143,"a":23.1,"b":23.4},
{"k":144,"a":0.25,"b":0.5},{"k":144,"a":0.6,"b":1},{"k":144,"a":1.4,"b":1.6},{"k":144,"a":2.5,"b":2.75},{"k":144,"a":3.25,"b":3.5},{"k":144,"a":4,"b":4.25},{"k":144,"a":5.25,"b":6},{"k":144,"a":6.1,"b":6.6},{"k":144,"a":6.75,"b":7.1},{"k":144,"a":7.25,"b":7.6},{"k":144,"a":7.9,"b":8},{"k":144,"a":8.4,"b":8.75},{"k":144,"a":9.1,"b":9.4},{"k":144,"a":10,"b":10.4},{"k":144,"a":10.9,"b":11.1},{"k":144,"a":11.5,"b":11.9},{"k":144,"a":12.4,"b":12.75},{"k":144,"a":13.25,"b":13.5},{"k":144,"a":14,"b":14.25},{"k":144,"a":14.75,"b":15.25},{"k":144,"a":15.5,"b":15.9},{"k":144,"a":16.25,"b":16.5},{"k":144,"a":17.1,"b":17.4},{"k":144,"a":17.75,"b":18},{"k":144,"a":18.75,"b":19.1},{"k":144,"a":22.1,"b":22.4},
{"k":145,"a":0.75,"b":1.25},{"k":145,"a":1.4,"b":2.4},{"k":145,"a":4.75,"b":4.9},{"k":145,"a":6.5,"b":7},{"k":145,"a":7.4,"b":7.75},{"k":145,"a":8.1,"b":8.4},{"k":145,"a":8.6,"b":9},{"k":145,"a":9.4,"b":9.6},{"k":145,"a":10.4,"b":11},{"k":145,"a":11.25,"b":11.5},{"k":145,"a":11.9,"b":12.25},{"k":145,"a":12.9,"b":13.25},{"k":145,"a":13.75,"b":14},{"k":145,"a":14.5,"b":15.1},{"k":145,"a":15.5,"b":15.9},{"k":145,"a":16.25,"b":16.5},{"k":145,"a":17,"b":17.25},{"k":145,"a":17.75,"b":18.1},{"k":145,"a":18.5,"b":18.75},{"k":145,"a":19.4,"b":19.75},{"k":145,"a":20.75,"b":20.9},{"k":145,"a":21.9,"b":22.1},{"k":145,"a":22.75,"b":23.1},
{"k":151,"a":0.4,"b":0.9},{"k":151,"a":1.6,"b":1.75},{"k":151,"a":2.5,"b":2.75},{"k":151,"a":3.9,"b":4.1},{"k":151,"a":5.9,"b":6.25},{"k":151,"a":6.4,"b":7},{"k":151,"a":7.1,"b":7.6},{"k":151,"a":7.7,"b":8.1},{"k":151,"a":8.75,"b":9},{"k":151,"a":9.4,"b":9.6},{"k":151,"a":10.1,"b":10.5},{"k":151,"a":10.75,"b":11},{"k":151,"a":11.5,"b":11.9},{"k":151,"a":12,"b":13.25},{"k":151,"a":13.5,"b":14.1},{"k":151,"a":14.4,"b":14.6},{"k":151,"a":15.1,"b":15.4},{"k":151,"a":15.75,"b":16.25},{"k":151,"a":16.9,"b":17.1},{"k":151,"a":17.5,"b":17.75},{"k":151,"a":18.25,"b":18.5},{"k":151,"a":20.25,"b":21},{"k":151,"a":21.25,"b":21.5},{"k":151,"a":21.9,"b":22.1},{"k":151,"a":22.5,"b":22.75},{"k":151,"a":23.25,"b":23.6},
{"k":152,"a":0.5,"b":0.9},{"k":152,"a":1.25,"b":1.5},{"k":152,"a":1.75,"b":2},{"k":152,"a":2.25,"b":2.5},{"k":152,"a":3.6,"b":4.25},{"k":152,"a":5.9,"b":6.1},{"k":152,"a":6.6,"b":7},{"k":152,"a":7.5,"b":7.9},{"k":152,"a":8.6,"b":9.4},{"k":152,"a":10.1,"b":10.5},{"k":152,"a":10.9,"b":11.1},{"k":152,"a":11.6,"b":11.9},{"k":152,"a":12.5,"b":12.75},{"k":152,"a":13.4,"b":13.6},{"k":152,"a":14.1,"b":14.4},{"k":152,"a":15.4,"b":15.6},{"k":152,"a":16.4,"b":16.6},{"k":152,"a":18.1,"b":18.4},{"k":152,"a":19.25,"b":19.5},{"k":152,"a":20.5,"b":20.6},{"k":152,"a":21.4,"b":21.75},{"k":152,"a":22.5,"b":22.75},{"k":152,"a":23.25,"b":23.5},
{"k":153,"a":0.1,"b":0.6},{"k":153,"a":0.9,"b":1.6},{"k":153,"a":1.75,"b":2.5},{"k":153,"a":2.9,"b":4.1},{"k":153,"a":4.6,"b":4.9},{"k":153,"a":6.5,"b":6.75},{"k":153,"a":7.4,"b":7.6},{"k":153,"a":8.1,"b":8.4},{"k":153,"a":9.1,"b":9.5},{"k":153,"a":10,"b":10.4},{"k":153,"a":10.75,"b":11.1},{"k":153,"a":11.5,"b":11.75},{"k":153,"a":12.1,"b":12.5},{"k":153,"a":13.1,"b":13.5},{"k":153,"a":13.9,"b":14.4},{"k":153,"a":14.9,"b":15.4},{"k":153,"a":16,"b":16.25},{"k":153,"a":16.9,"b":17.1},{"k":153,"a":17.75,"b":18},{"k":153,"a":18.9,"b":19.1},{"k":153,"a":19.75,"b":20},{"k":153,"a":21.25,"b":21.6},{"k":153,"a":21.9,"b":22.25},
{"k":154,"a":0.6,"b":0.75},{"k":154,"a":1.25,"b":1.4},{"k":154,"a":2.25,"b":2.5},{"k":154,"a":3,"b":3.25},{"k":154,"a":3.9,"b":4.1},{"k":154,"a":5.1,"b":5.4},{"k":154,"a":5.6,"b":6},{"k":154,"a":6.75,"b":7.5},{"k":154,"a":8,"b":8.25},{"k":154,"a":8.75,"b":9},{"k":154,"a":9.5,"b":9.75},{"k":154,"a":10.4,"b":10.6},{"k":154,"a":11,"b":11.25},{"k":154,"a":11.6,"b":11.9},{"k":154,"a":12.5,"b":12.9},{"k":154,"a":13.4,"b":13.6},{"k":154,"a":14.25,"b":14.5},{"k":154,"a":15.1,"b":15.4},{"k":154,"a":16,"b":16.75},{"k":154,"a":17.75,"b":18},{"k":154,"a":18.75,"b":19},{"k":154,"a":20,"b":20.25},{"k":154,"a":20.5,"b":20.6},{"k":154,"a":21.9,"b":22.25},{"k":154,"a":22.75,"b":23},
{"k":155,"a":0.1,"b":0.25},{"k":155,"a":1.4,"b":1.6},{"k":155,"a":2.75,"b":2.9},{"k":155,"a":3.5,"b":3.75},{"k":155,"a":4.25,"b":4.5},{"k":155,"a":5,"b":5.25},{"k":155,"a":6,"b":6.25},{"k":155,"a":7,"b":7.25},{"k":155,"a":7.4,"b":7.6},{"k":155,"a":8.25,"b":8.5},{"k":155,"a":9.1,"b":9.4},{"k":155,"a":10,"b":10.25},{"k":155,"a":10.6,"b":10.9},{"k":155,"a":11.5,"b":11.75},{"k":155,"a":12.25,"b":12.5},{"k":155,"a":13.25,"b":13.5},{"k":155,"a":14.25,"b":14.5},{"k":155,"a":15.4,"b":15.6},{"k":155,"a":16.75,"b":17},{"k":155,"a":18.1,"b":18.4},{"k":155,"a":19.25,"b":19.5},{"k":155,"a":20.25,"b":20.4},{"k":155,"a":21.75,"b":22.75},{"k":155,"a":23,"b":23.25},
{"k":161,"a":0.05,"b":0.2},{"k":161,"a":0.95,"b":1.05},{"k":161,"a":2.2,"b":2.55},{"k":161,"a":3.2,"b":3.3},{"k":161,"a":3.7,"b":3.8},{"k":161,"a":4.2,"b":4.3},{"k":161,"a":5.05,"b":5.3},{"k":161,"a":5.55,"b":5.8},{"k":161,"a":8.3,"b":8.7},{"k":161,"a":9.05,"b":9.3},{"k":161,"a":9.95,"b":10.2},{"k":161,"a":10.3,"b":10.55},{"k":161,"a":11.8,"b":12.05},{"k":161,"a":13.05,"b":13.2},{"k":161,"a":14.8,"b":15.05},{"k":161,"a":16.55,"b":16.8},{"k":161,"a":17.95,"b":18.2},{"k":161,"a":18.45,"b":18.7},{"k":161,"a":18.8,"b":18.95},{"k":161,"a":19.8,"b":20.45},{"k":161,"a":21.2,"b":21.45},{"k":161,"a":21.8,"b":21.95},{"k":161,"a":22.3,"b":22.7},{"k":161,"a":23.3,"b":23.45},
{"k":162,"a":0.2,"b":0.3},{"k":162,"a":0.55,"b":0.7},{"k":162,"a":0.95,"b":1.2},{"k":162,"a":2.45,"b":2.7},{"k":162,"a":3.3,"b":3.55},{"k":162,"a":4.05,"b":4.3},{"k":162,"a":4.8,"b":5.05},{"k":162,"a":6.2,"b":6.45},{"k":162,"a":6.8,"b":7.3},{"k":162,"a":8.3,"b":8.55},{"k":162,"a":9.2,"b":9.45},{"k":162,"a":9.7,"b":9.95},{"k":162,"a":10.3,"b":10.55},{"k":162,"a":10.8,"b":11.05},{"k":162,"a":11.3,"b":11.45},{"k":162,"a":11.8,"b":12.05},{"k":162,"a":12.3,"b":12.55},{"k":162,"a":12.8,"b":13.05},{"k":162,"a":13.7,"b":13.95},{"k":162,"a":14.45,"b":14.8},{"k":162,"a":15.2,"b":15.45},{"k":162,"a":15.7,"b":15.95},{"k":162,"a":16.8,"b":17.05},{"k":162,"a":17.55,"b":17.7},{"k":162,"a":18.2,"b":18.45},{"k":162,"a":19.05,"b":19.3},{"k":162,"a":20.2,"b":20.95},{"k":162,"a":21.3,"b":21.55},{"k":162,"a":21.95,"b":22.2},{"k":162,"a":23.3,"b":23.7},
{"k":163,"a":0.8,"b":1.2},{"k":163,"a":1.8,"b":2.2},{"k":163,"a":2.8,"b":3.05},{"k":163,"a":3.45,"b":3.7},{"k":163,"a":4.3,"b":4.55},{"k":163,"a":5.2,"b":5.55},{"k":163,"a":6.3,"b":6.7},{"k":163,"a":7.2,"b":7.3},{"k":163,"a":8.8,"b":9.2},{"k":163,"a":9.55,"b":9.8},{"k":163,"a":10.55,"b":10.95},{"k":163,"a":11.45,"b":11.7},{"k":163,"a":12.05,"b":12.45},{"k":163,"a":12.8,"b":13.2},{"k":163,"a":13.95,"b":14.2},{"k":163,"a":14.95,"b":15.2},{"k":163,"a":15.7,"b":15.95},{"k":163,"a":16.3,"b":16.55},{"k":163,"a":16.95,"b":17.2},{"k":163,"a":17.55,"b":17.7},{"k":163,"a":18.3,"b":18.7},{"k":163,"a":19.95,"b":20.3},{"k":163,"a":20.55,"b":20.8},{"k":163,"a":22.05,"b":22.3},{"k":163,"a":23.2,"b":23.45},
{"k":164,"a":0.2,"b":0.45},{"k":164,"a":1.3,"b":1.55},{"k":164,"a":2.2,"b":2.45},{"k":164,"a":3.05,"b":3.3},{"k":164,"a":3.8,"b":4.05},{"k":164,"a":4.55,"b":4.7},{"k":164,"a":5.3,"b":5.45},{"k":164,"a":6.3,"b":6.55},{"k":164,"a":7.8,"b":8.05},{"k":164,"a":8.7,"b":9.05},{"k":164,"a":10.2,"b":10.55},{"k":164,"a":10.95,"b":11.2},{"k":164,"a":12.05,"b":12.3},{"k":164,"a":12.8,"b":12.95},{"k":164,"a":13.55,"b":13.8},{"k":164,"a":14.2,"b":14.45},{"k":164,"a":15.8,"b":16.2},{"k":164,"a":16.8,"b":17.2},{"k":164,"a":17.7,"b":17.95},{"k":164,"a":18.55,"b":18.8},{"k":164,"a":19.45,"b":19.7},{"k":164,"a":20.7,"b":20.95},{"k":164,"a":21.8,"b":22.05},
{"k":165,"a":0.7,"b":1.05},{"k":165,"a":2.45,"b":2.8},{"k":165,"a":3.3,"b":3.55},{"k":165,"a":3.95,"b":4.2},{"k":165,"a":4.55,"b":4.8},{"k":165,"a":6.2,"b":6.7},{"k":165,"a":8.45,"b":8.8},{"k":165,"a":9.55,"b":9.95},{"k":165,"a":10.45,"b":10.7},{"k":165,"a":11.45,"b":11.7},{"k":165,"a":12.45,"b":12.7},{"k":165,"a":13.3,"b":13.55},{"k":165,"a":14.2,"b":14.45},{"k":165,"a":14.95,"b":15.2},{"k":165,"a":15.8,"b":16.05},{"k":165,"a":16.7,"b":16.95},{"k":165,"a":17.45,"b":17.95},{"k":165,"a":18.45,"b":18.7},{"k":165,"a":19.3,"b":19.7},{"k":165,"a":20.2,"b":20.55},{"k":165,"a":21.45,"b":21.8},{"k":165,"a":22.45,"b":22.7},
{"k":171,"a":0.25,"b":0.5},{"k":171,"a":0.75,"b":1},{"k":171,"a":1.6,"b":2.1},{"k":171,"a":4.25,"b":4.75},{"k":171,"a":6.9,"b":7.4},{"k":171,"a":7.75,"b":8.1},{"k":171,"a":8.75,"b":9.25},{"k":171,"a":9.75,"b":10},{"k":171,"a":10.4,"b":10.6},{"k":171,"a":11.25,"b":11.5},{"k":171,"a":12.1,"b":12.5},{"k":171,"a":13.5,"b":13.9},{"k":171,"a":14,"b":14.4},{"k":171,"a":14.5,"b":15},{"k":171,"a":15.25,"b":15.75},{"k":171,"a":16.25,"b":16.5},{"k":171,"a":17,"b":17.25},{"k":171,"a":17.75,"b":18},{"k":171,"a":18.75,"b":19},{"k":171,"a":19.5,"b":19.75},{"k":171,"a":20.4,"b":20.6},{"k":171,"a":21.1,"b":21.4},{"k":171,"a":22,"b":22.25},{"k":171,"a":23,"b":23.25},
{"k":172,"a":0.4,"b":0.75},{"k":172,"a":1,"b":1.4},{"k":172,"a":1.9,"b":2.4},{"k":172,"a":3.1,"b":3.5},{"k":172,"a":3.9,"b":4.4},{"k":172,"a":5,"b":5.25},{"k":172,"a":6.1,"b":6.75},{"k":172,"a":7,"b":7.75},{"k":172,"a":8,"b":8.5},{"k":172,"a":9,"b":9.5},{"k":172,"a":9.75,"b":10.1},{"k":172,"a":10.5,"b":10.9},{"k":172,"a":11.25,"b":11.75},{"k":172,"a":12.1,"b":12.5},{"k":172,"a":12.9,"b":13.25},{"k":172,"a":13.75,"b":14.1},{"k":172,"a":14.5,"b":15.1},{"k":172,"a":15.6,"b":15.9},{"k":172,"a":16.4,"b":16.75},{"k":172,"a":17.1,"b":17.5},{"k":172,"a":17.9,"b":18.4},{"k":172,"a":18.9,"b":19.1},{"k":172,"a":19.75,"b":20},{"k":172,"a":20.6,"b":20.9},{"k":172,"a":21.5,"b":21.75},{"k":172,"a":22.75,"b":23.1},
{"k":173,"a":0.5,"b":1.4},{"k":173,"a":1.6,"b":2.25},{"k":173,"a":2.75,"b":3.1},{"k":173,"a":3.5,"b":3.75},{"k":173,"a":4.25,"b":4.6},{"k":173,"a":5,"b":5.25},{"k":173,"a":5.9,"b":6.1},{"k":173,"a":6.6,"b":6.9},{"k":173,"a":7.1,"b":7.75},{"k":173,"a":8.1,"b":8.4},{"k":173,"a":9,"b":9.5},{"k":173,"a":10,"b":10.25},{"k":173,"a":10.6,"b":11},{"k":173,"a":11.4,"b":11.75},{"k":173,"a":12.25,"b":12.5},{"k":173,"a":13,"b":13.4},{"k":173,"a":13.75,"b":14},{"k":173,"a":14.5,"b":14.9},{"k":173,"a":15.25,"b":15.75},{"k":173,"a":16.4,"b":16.6},{"k":173,"a":17.1,"b":17.4},{"k":173,"a":18,"b":18.25},{"k":173,"a":18.9,"b":19.1},{"k":173,"a":19.75,"b":20},{"k":173,"a":20.75,"b":21},{"k":173,"a":22.75,"b":23.75},
{"k":174,"a":1,"b":1.25},{"k":174,"a":1.5,"b":2},{"k":174,"a":2.25,"b":2.75},{"k":174,"a":3.1,"b":3.75},{"k":174,"a":4.6,"b":5},{"k":174,"a":5.5,"b":5.9},{"k":174,"a":6.9,"b":7.25},{"k":174,"a":7.75,"b":8},{"k":174,"a":8.25,"b":8.5},{"k":174,"a":9,"b":9.25},{"k":174,"a":9.6,"b":10},{"k":174,"a":10.9,"b":11.5},{"k":174,"a":11.9,"b":12.25},{"k":174,"a":12.6,"b":13.1},{"k":174,"a":13.5,"b":14},{"k":174,"a":14.4,"b":14.6},{"k":174,"a":14.9,"b":15.25},{"k":174,"a":15.6,"b":16.1},{"k":174,"a":16.5,"b":16.75},{"k":174,"a":17.1,"b":17.4},{"k":174,"a":17.75,"b":18.25},{"k":174,"a":18.75,"b":20},{"k":174,"a":20.5,"b":21.1},{"k":174,"a":23.4,"b":23.9},
{"k":175,"a":0.5,"b":0.9},{"k":175,"a":1.1,"b":1.4},{"k":175,"a":1.6,"b":2},{"k":175,"a":2.75,"b":3},{"k":175,"a":3.4,"b":3.6},{"k":175,"a":4.5,"b":4.75},{"k":175,"a":5.5,"b":6},{"k":175,"a":6.4,"b":6.75},{"k":175,"a":7.25,"b":7.75},{"k":175,"a":8.1,"b":8.4},{"k":175,"a":8.75,"b":9},{"k":175,"a":9.4,"b":9.6},{"k":175,"a":10.1,"b":10.5},{"k":175,"a":10.9,"b":11.25},{"k":175,"a":11.5,"b":11.9},{"k":175,"a":12.25,"b":12.5},{"k":175,"a":13,"b":13.4},{"k":175,"a":13.75,"b":14},{"k":175,"a":14.5,"b":14.9},{"k":175,"a":15.25,"b":15.6},{"k":175,"a":16.1,"b":16.4},{"k":175,"a":16.9,"b":17.1},{"k":175,"a":17.6,"b":18},{"k":175,"a":18.75,"b":19},{"k":175,"a":19.75,"b":20.1},{"k":175,"a":20.6,"b":20.9},{"k":175,"a":22.75,"b":23.4},
{"k":181,"a":0,"b":0.25},{"k":181,"a":1.75,"b":2},{"k":181,"a":3.1,"b":3.4},{"k":181,"a":5.1,"b":5.4},{"k":181,"a":7.5,"b":7.9},{"k":181,"a":8.1,"b":8.5},{"k":181,"a":8.9,"b":9.1},{"k":181,"a":9.6,"b":9.9},{"k":181,"a":10.4,"b":10.6},{"k":181,"a":11.25,"b":11.5},{"k":181,"a":12.6,"b":13.6},{"k":181,"a":14.4,"b":14.6},{"k":181,"a":15.1,"b":15.4},{"k":181,"a":15.9,"b":16.25},{"k":181,"a":16.75,"b":17},{"k":181,"a":17.5,"b":17.9},{"k":181,"a":18.25,"b":18.5},{"k":181,"a":19.1,"b":19.4},{"k":181,"a":20,"b":20.4},{"k":181,"a":21.25,"b":21.5},{"k":181,"a":22.4,"b":22.6},
{"k":182,"a":1.5,"b":1.9},{"k":182,"a":2.6,"b":2.9},{"k":182,"a":3.6,"b":3.9},{"k":182,"a":4.4,"b":4.6},{"k":182,"a":5,"b":5.25},{"k":182,"a":5.5,"b":6.5},{"k":182,"a":6.6,"b":7.1},{"k":182,"a":8.25,"b":8.5},{"k":182,"a":9.1,"b":9.5},{"k":182,"a":10,"b":10.4},{"k":182,"a":10.75,"b":11},{"k":182,"a":11.5,"b":11.75},{"k":182,"a":12.25,"b":12.6},{"k":182,"a":13.25,"b":13.5},{"k":182,"a":14.25,"b":14.5},{"k":182,"a":15.25,"b":15.6},{"k":182,"a":16.25,"b":16.5},{"k":182,"a":17.5,"b":17.9},{"k":182,"a":18.75,"b":19.1},{"k":182,"a":20,"b":20.25},{"k":182,"a":21.6,"b":21.9},{"k":182,"a":22.9,"b":23.1},
{"k":183,"a":0.1,"b":0.2},{"k":183,"a":0.35,"b":0.45},{"k":183,"a":0.6,"b":0.75},{"k":183,"a":0.9,"b":1},{"k":183,"a":1.1,"b":1.25},{"k":183,"a":1.9,"b":2.1},{"k":183,"a":2.6,"b":2.75},{"k":183,"a":3.75,"b":4.1},{"k":183,"a":4.75,"b":5},{"k":183,"a":5.5,"b":5.9},{"k":183,"a":6.5,"b":6.75},{"k":183,"a":7.25,"b":7.75},{"k":183,"a":8.25,"b":8.5},{"k":183,"a":8.9,"b":9.25},{"k":183,"a":9.6,"b":9.9},{"k":183,"a":10.4,"b":10.6},{"k":183,"a":11.1,"b":11.5},{"k":183,"a":12,"b":12.4},{"k":183,"a":12.9,"b":13.25},{"k":183,"a":13.75,"b":14.1},{"k":183,"a":14.5,"b":14.9},{"k":183,"a":15.4,"b":15.75},{"k":183,"a":16.25,"b":16.6},{"k":183,"a":17.1,"b":17.5},{"k":183,"a":18.1,"b":18.5},{"k":183,"a":19,"b":19.25},{"k":183,"a":19.75,"b":20},{"k":183,"a":20.75,"b":21.1},{"k":183,"a":21.75,"b":22},{"k":183,"a":22.9,"b":23.4},
{"k":184,"a":0.25,"b":0.5},{"k":184,"a":0.75,"b":1},{"k":184,"a":1.4,"b":1.6},{"k":184,"a":2.1,"b":2.75},{"k":184,"a":3.4,"b":3.75},{"k":184,"a":4.5,"b":4.75},{"k":184,"a":5.4,"b":5.6},{"k":184,"a":6,"b":6.4},{"k":184,"a":7.1,"b":7.4},{"k":184,"a":7.6,"b":7.9},{"k":184,"a":8.1,"b":8.4},{"k":184,"a":8.5,"b":8.75},{"k":184,"a":9.1,"b":9.5},{"k":184,"a":10,"b":10.4},{"k":184,"a":10.9,"b":11.25},{"k":184,"a":11.75,"b":12.1},{"k":184,"a":12.6,"b":12.9},{"k":184,"a":13.25,"b":13.6},{"k":184,"a":14,"b":14.4},{"k":184,"a":14.9,"b":15.1},{"k":184,"a":15.6,"b":15.9},{"k":184,"a":16.5,"b":16.75},{"k":184,"a":17.5,"b":17.75},{"k":184,"a":18.25,"b":18.6},{"k":184,"a":19.25,"b":19.5},{"k":184,"a":20,"b":20.4},{"k":184,"a":21,"b":21.25},{"k":184,"a":22,"b":22.25},
{"k":185,"a":0,"b":0.5},{"k":185,"a":1.5,"b":1.6},{"k":185,"a":2.6,"b":3.1},{"k":185,"a":3.4,"b":3.75},{"k":185,"a":4,"b":4.4},{"k":185,"a":4.75,"b":5},{"k":185,"a":5.75,"b":5.9},{"k":185,"a":7.6,"b":8},{"k":185,"a":8.25,"b":8.6},{"k":185,"a":9.1,"b":9.5},{"k":185,"a":10,"b":10.25},{"k":185,"a":10.6,"b":11},{"k":185,"a":11.5,"b":11.75},{"k":185,"a":12.1,"b":12.6},{"k":185,"a":13,"b":13.25},{"k":185,"a":13.75,"b":14},{"k":185,"a":14.6,"b":15},{"k":185,"a":15.25,"b":15.5},{"k":185,"a":15.9,"b":16.1},{"k":185,"a":16.75,"b":17},{"k":185,"a":17.5,"b":17.75},{"k":185,"a":18.25,"b":18.6},{"k":185,"a":19.4,"b":19.6},{"k":185,"a":20.4,"b":20.6},{"k":185,"a":21.25,"b":21.5},{"k":185,"a":22.1,"b":22.4},
{"k":191,"a":0.3,"b":0.55},{"k":191,"a":0.8,"b":1.2},{"k":191,"a":1.8,"b":1.95},{"k":191,"a":2.7,"b":2.95},{"k":191,"a":3.05,"b":3.3},{"k":191,"a":4.3,"b":4.55},{"k":191,"a":5.7,"b":6.05},{"k":191,"a":6.95,"b":7.45},{"k":191,"a":7.8,"b":8.05},{"k":191,"a":9.2,"b":9.55},{"k":191,"a":9.8,"b":10.05},{"k":191,"a":11.05,"b":11.45},{"k":191,"a":11.6,"b":11.85},{"k":191,"a":12.2,"b":12.55},{"k":191,"a":12.95,"b":13.3},{"k":191,"a":13.7,"b":14.05},{"k":191,"a":14.45,"b":14.8},{"k":191,"a":15.55,"b":16.05},{"k":191,"a":16.95,"b":17.7},{"k":191,"a":18.05,"b":18.45},{"k":191,"a":18.7,"b":18.95},{"k":191,"a":19.2,"b":19.55},{"k":191,"a":19.95,"b":20.7},{"k":191,"a":21.3,"b":21.7},{"k":191,"a":21.95,"b":22.2},{"k":191,"a":22.7,"b":22.95},{"k":191,"a":23.45,"b":23.7},
{"k":192,"a":0.55,"b":0.7},{"k":192,"a":1.7,"b":2.05},{"k":192,"a":3.7,"b":4.2},{"k":192,"a":4.95,"b":5.2},{"k":192,"a":5.55,"b":6.05},{"k":192,"a":6.45,"b":6.7},{"k":192,"a":7.05,"b":8.3},{"k":192,"a":8.45,"b":8.7},{"k":192,"a":9.55,"b":9.95},{"k":192,"a":10.05,"b":10.95},{"k":192,"a":11.3,"b":11.55},{"k":192,"a":12.05,"b":12.55},{"k":192,"a":12.8,"b":13.3},{"k":192,"a":13.7,"b":14.05},{"k":192,"a":14.3,"b":14.55},{"k":192,"a":15.05,"b":15.55},{"k":192,"a":15.95,"b":16.45},{"k":192,"a":16.8,"b":17.3},{"k":192,"a":17.55,"b":17.95},{"k":192,"a":18.2,"b":18.55},{"k":192,"a":18.95,"b":19.55},{"k":192,"a":20.2,"b":20.7},{"k":192,"a":21.3,"b":22.05},{"k":192,"a":22.7,"b":22.95},{"k":192,"a":23.55,"b":23.8},
{"k":193,"a":0.7,"b":0.95},{"k":193,"a":1.45,"b":1.7},{"k":193,"a":2.05,"b":2.55},{"k":193,"a":3.05,"b":3.3},{"k":193,"a":3.7,"b":3.95},{"k":193,"a":4.3,"b":4.55},{"k":193,"a":5.2,"b":5.45},{"k":193,"a":5.8,"b":6.05},{"k":193,"a":6.7,"b":7.8},{"k":193,"a":8.05,"b":8.3},{"k":193,"a":8.45,"b":8.95},{"k":193,"a":9.7,"b":10.2},{"k":193,"a":10.55,"b":10.95},{"k":193,"a":11.3,"b":11.7},{"k":193,"a":12.05,"b":12.45},{"k":193,"a":12.7,"b":13.05},{"k":193,"a":13.45,"b":13.8},{"k":193,"a":14.2,"b":14.55},{"k":193,"a":15.2,"b":15.45},{"k":193,"a":15.95,"b":16.3},{"k":193,"a":16.7,"b":17.05},{"k":193,"a":17.55,"b":18.05},{"k":193,"a":18.7,"b":19.05},{"k":193,"a":19.45,"b":19.7},{"k":193,"a":20.05,"b":20.45},{"k":193,"a":20.8,"b":21.05},{"k":193,"a":21.7,"b":21.95},{"k":193,"a":22.7,"b":23.05},
{"k":194,"a":1.3,"b":1.8},{"k":194,"a":2.7,"b":2.95},{"k":194,"a":3.3,"b":3.55},{"k":194,"a":4.8,"b":5.3},{"k":194,"a":6.05,"b":6.3},{"k":194,"a":6.8,"b":7.45},{"k":194,"a":7.55,"b":8.45},{"k":194,"a":9.45,"b":9.95},{"k":194,"a":10.3,"b":10.55},{"k":194,"a":10.8,"b":11.05},{"k":194,"a":11.45,"b":11.8},{"k":194,"a":12.05,"b":12.55},{"k":194,"a":12.95,"b":13.2},{"k":194,"a":13.55,"b":13.95},{"k":194,"a":14.3,"b":14.8},{"k":194,"a":15.2,"b":15.45},{"k":194,"a":15.8,"b":16.2},{"k":194,"a":16.55,"b":16.8},{"k":194,"a":17.3,"b":17.55},{"k":194,"a":17.95,"b":18.3},{"k":194,"a":18.7,"b":18.95},{"k":194,"a":19.3,"b":20.7},{"k":194,"a":21.2,"b":21.45},{"k":194,"a":21.7,"b":22.1},{"k":194,"a":23.3,"b":23.8},
{"k":195,"a":0.95,"b":1.05},{"k":195,"a":2.05,"b":2.2},{"k":195,"a":3.55,"b":4.3},{"k":195,"a":5.8,"b":5.95},{"k":195,"a":6.7,"b":6.8},{"k":195,"a":6.95,"b":7.15},{"k":195,"a":7.3,"b":7.45},{"k":195,"a":7.6,"b":7.95},{"k":195,"a":8.05,"b":8.3},{"k":195,"a":9.45,"b":10.95},{"k":195,"a":11.3,"b":11.55},{"k":195,"a":12.05,"b":12.45},{"k":195,"a":12.8,"b":13.3},{"k":195,"a":13.7,"b":14.05},{"k":195,"a":14.55,"b":14.95},{"k":195,"a":15.3,"b":15.7},{"k":195,"a":16.2,"b":16.45},{"k":195,"a":16.95,"b":17.2},{"k":195,"a":17.55,"b":17.8},{"k":195,"a":18.55,"b":18.8},{"k":195,"a":19.3,"b":19.55},{"k":195,"a":20.2,"b":20.55},{"k":195,"a":21.3,"b":21.55},{"k":195,"a":21.95,"b":22.3},{"k":195,"a":23.2,"b":23.45},
{"k":201,"a":0.1,"b":0.25},{"k":201,"a":2.75,"b":3.4},{"k":201,"a":6.6,"b":6.9},{"k":201,"a":7.1,"b":7.75},{"k":201,"a":8.25,"b":8.5},{"k":201,"a":9.25,"b":9.75},{"k":201,"a":10.1,"b":10.4},{"k":201,"a":11,"b":11.25},{"k":201,"a":11.75,"b":12.1},{"k":201,"a":13.25,"b":13.6},{"k":201,"a":14,"b":14.1},{"k":201,"a":14.6,"b":15},{"k":201,"a":15.6,"b":15.9},{"k":201,"a":16.4,"b":16.6},{"k":201,"a":17.6,"b":17.9},{"k":201,"a":18.6,"b":19},{"k":201,"a":19.75,"b":20},{"k":201,"a":20.4,"b":20.6},{"k":201,"a":21.25,"b":21.75},{"k":201,"a":22.6,"b":22.9},{"k":201,"a":23.4,"b":23.6},
{"k":202,"a":1.1,"b":1.25},{"k":202,"a":2.1,"b":2.4},{"k":202,"a":2.75,"b":3},{"k":202,"a":3.4,"b":3.5},{"k":202,"a":4.1,"b":4.5},{"k":202,"a":4.6,"b":5.25},{"k":202,"a":5.5,"b":5.75},{"k":202,"a":6.5,"b":6.9},{"k":202,"a":7.1,"b":7.5},{"k":202,"a":7.75,"b":8},{"k":202,"a":8.4,"b":8.75},{"k":202,"a":9.25,"b":9.6},{"k":202,"a":10,"b":10.4},{"k":202,"a":10.75,"b":11},{"k":202,"a":11.4,"b":11.6},{"k":202,"a":12,"b":12.4},{"k":202,"a":12.9,"b":13.4},{"k":202,"a":13.6,"b":14},{"k":202,"a":14.4,"b":14.6},{"k":202,"a":15.1,"b":15.5},{"k":202,"a":16.1,"b":16.4},{"k":202,"a":16.9,"b":17.1},{"k":202,"a":17.6,"b":17.9},{"k":202,"a":18.75,"b":19},{"k":202,"a":20.6,"b":20.9},{"k":202,"a":21.75,"b":22},{"k":202,"a":23,"b":23.25},
{"k":203,"a":0.35,"b":0.5},{"k":203,"a":1.4,"b":1.6},{"k":203,"a":2.25,"b":3.4},{"k":203,"a":4,"b":4.25},{"k":203,"a":4.5,"b":4.75},{"k":203,"a":5.25,"b":5.6},{"k":203,"a":6.1,"b":6.4},{"k":203,"a":6.9,"b":7.75},{"k":203,"a":8.25,"b":8.6},{"k":203,"a":9,"b":9.4},{"k":203,"a":9.6,"b":10},{"k":203,"a":10.4,"b":10.75},{"k":203,"a":11.25,"b":11.6},{"k":203,"a":12.4,"b":12.75},{"k":203,"a":13.1,"b":13.5},{"k":203,"a":14.25,"b":14.75},{"k":203,"a":15.1,"b":15.5},{"k":203,"a":15.75,"b":16.1},{"k":203,"a":16.6,"b":16.9},{"k":203,"a":17.5,"b":17.9},{"k":203,"a":18.6,"b":18.9},{"k":203,"a":19.9,"b":20.6},{"k":203,"a":21.1,"b":21.4},{"k":203,"a":22.1,"b":22.4},
{"k":204,"a":0.25,"b":0.35},{"k":204,"a":2.25,"b":2.4},{"k":204,"a":4.1,"b":4.4},{"k":204,"a":4.6,"b":4.9},{"k":204,"a":5.25,"b":5.5},{"k":204,"a":6.1,"b":6.5},{"k":204,"a":6.6,"b":7.1},{"k":204,"a":7.25,"b":7.75},{"k":204,"a":8.25,"b":8.5},{"k":204,"a":9,"b":9.4},{"k":204,"a":9.75,"b":10.1},{"k":204,"a":10.5,"b":11.9},{"k":204,"a":12.25,"b":12.6},{"k":204,"a":13,"b":13.4},{"k":204,"a":13.75,"b":14},{"k":204,"a":14.6,"b":14.9},{"k":204,"a":15.4,"b":15.6},{"k":204,"a":16.25,"b":16.75},{"k":204,"a":17.5,"b":17.75},{"k":204,"a":18.1,"b":18.4},{"k":204,"a":18.75,"b":19},{"k":204,"a":19.75,"b":20.25},{"k":204,"a":21.1,"b":21.4},{"k":204,"a":21.9,"b":22.1},{"k":204,"a":22.75,"b":23},{"k":204,"a":23.5,"b":23.75},
{"k":205,"a":0.6,"b":0.9},{"k":205,"a":1.1,"b":1.6},{"k":205,"a":3.6,"b":3.9},{"k":205,"a":4.4,"b":4.75},{"k":205,"a":5.5,"b":6.25},{"k":205,"a":6.5,"b":6.6},{"k":205,"a":6.75,"b":6.85},{"k":205,"a":7,"b":7.1},{"k":205,"a":7.25,"b":7.4},{"k":205,"a":7.55,"b":7.75},{"k":205,"a":8.4,"b":8.6},{"k":205,"a":9.1,"b":10.4},{"k":205,"a":10.75,"b":11},{"k":205,"a":11.4,"b":12.1},{"k":205,"a":12.5,"b":12.75},{"k":205,"a":13.25,"b":13.5},{"k":205,"a":14,"b":14.25},{"k":205,"a":14.75,"b":15.1},{"k":205,"a":15.9,"b":16.25},{"k":205,"a":16.6,"b":16.9},{"k":205,"a":17.5,"b":17.75},{"k":205,"a":18.4,"b":18.6},{"k":205,"a":19.25,"b":19.5},{"k":205,"a":20.5,"b":20.75},{"k":205,"a":21.25,"b":21.5},{"k":205,"a":23.4,"b":23.75},
{"k":211,"a":0.6,"b":0.75},{"k":211,"a":1.6,"b":1.75},{"k":211,"a":2.1,"b":2.25},{"k":211,"a":3.9,"b":4},{"k":211,"a":4.5,"b":4.6},{"k":211,"a":6.75,"b":6.9},{"k":211,"a":8.9,"b":9.1},{"k":211,"a":9.4,"b":9.6},{"k":211,"a":10,"b":10.6},{"k":211,"a":11.25,"b":11.5},{"k":211,"a":12.5,"b":13},{"k":211,"a":13.75,"b":14},{"k":211,"a":14.4,"b":14.75},{"k":211,"a":15.1,"b":15.4},{"k":211,"a":15.75,"b":16},{"k":211,"a":16.25,"b":16.75},{"k":211,"a":17.1,"b":17.4},{"k":211,"a":17.6,"b":17.9},{"k":211,"a":18.5,"b":18.75},{"k":211,"a":18.9,"b":19.1},{"k":211,"a":19.9,"b":20.1},{"k":211,"a":20.5,"b":20.75},{"k":211,"a":21.25,"b":21.5},{"k":211,"a":21.75,"b":22},{"k":211,"a":22.25,"b":22.5},
{"k":212,"a":0,"b":0.5},{"k":212,"a":0.9,"b":1.1},{"k":212,"a":1.4,"b":1.6},{"k":212,"a":1.9,"b":2.1},{"k":212,"a":2.4,"b":2.6},{"k":212,"a":3.1,"b":3.25},{"k":212,"a":4,"b":4.25},{"k":212,"a":5.4,"b":5.5},{"k":212,"a":6.75,"b":7},{"k":212,"a":9.4,"b":9.75},{"k":212,"a":10.5,"b":10.9},{"k":212,"a":11.25,"b":11.5},{"k":212,"a":11.9,"b":12.25},{"k":212,"a":12.6,"b":12.9},{"k":212,"a":13.5,"b":13.9},{"k":212,"a":14.4,"b":14.6},{"k":212,"a":15.25,"b":15.5},{"k":212,"a":16.1,"b":16.5},{"k":212,"a":16.9,"b":17.25},{"k":212,"a":17.6,"b":17.9},{"k":212,"a":18.4,"b":18.75},{"k":212,"a":18.9,"b":19.1},{"k":212,"a":19.75,"b":20},{"k":212,"a":20.75,"b":21},{"k":212,"a":21.5,"b":21.75},{"k":212,"a":22.9,"b":23.1},
{"k":213,"a":0.5,"b":0.6},{"k":213,"a":7.1,"b":7.4},{"k":213,"a":9.1,"b":9.4},{"k":213,"a":9.6,"b":10},{"k":213,"a":10.75,"b":11.1},{"k":213,"a":11.9,"b":12.1},{"k":213,"a":12.5,"b":12.75},{"k":213,"a":13.1,"b":13.4},{"k":213,"a":14,"b":14.5},{"k":213,"a":15.25,"b":15.5},{"k":213,"a":15.75,"b":16.1},{"k":213,"a":16.75,"b":17.1},{"k":213,"a":17.5,"b":17.75},{"k":213,"a":18.5,"b":18.75},{"k":213,"a":19.4,"b":19.9},{"k":213,"a":20.25,"b":20.9},{"k":213,"a":21.6,"b":21.9},{"k":213,"a":22.25,"b":22.5},{"k":213,"a":23.1,"b":23.4},
{"k":214,"a":0.5,"b":0.6},{"k":214,"a":0.9,"b":1},{"k":214,"a":1.5,"b":1.6},{"k":214,"a":2.4,"b":2.6},{"k":214,"a":2.9,"b":3.1},{"k":214,"a":3.75,"b":3.9},{"k":214,"a":4.75,"b":4.9},{"k":214,"a":5.9,"b":6},{"k":214,"a":6.75,"b":7},{"k":214,"a":7.6,"b":7.9},{"k":214,"a":8.75,"b":9},{"k":214,"a":9.6,"b":10},{"k":214,"a":10.4,"b":10.6},{"k":214,"a":11.1,"b":11.5},{"k":214,"a":12,"b":12.25},{"k":214,"a":12.9,"b":13.25},{"k":214,"a":13.5,"b":13.75},{"k":214,"a":14,"b":14.25},{"k":214,"a":14.6,"b":14.9},{"k":214,"a":15.25,"b":15.5},{"k":214,"a":15.75,"b":16.1},{"k":214,"a":16.5,"b":16.75},{"k":214,"a":17.1,"b":17.4},{"k":214,"a":18,"b":18.25},{"k":214,"a":18.75,"b":19},{"k":214,"a":21,"b":21.5},{"k":214,"a":21.9,"b":22.1},{"k":214,"a":22.6,"b":22.9},
{"k":215,"a":0.25,"b":0.5},{"k":215,"a":0.9,"b":1.1},{"k":215,"a":1.6,"b":1.9},{"k":215,"a":4.4,"b":4.6},{"k":215,"a":5.9,"b":6.1},{"k":215,"a":7,"b":7.4},{"k":215,"a":8,"b":8.25},{"k":215,"a":9.1,"b":9.5},{"k":215,"a":10.25,"b":10.6},{"k":215,"a":11.25,"b":11.5},{"k":215,"a":12.1,"b":12.5},{"k":215,"a":13,"b":13.4},{"k":215,"a":13.9,"b":14.1},{"k":215,"a":14.75,"b":15},{"k":215,"a":15.6,"b":15.9},{"k":215,"a":16.4,"b":16.75},{"k":215,"a":17.25,"b":17.5},{"k":215,"a":17.75,"b":18.1},{"k":215,"a":18.5,"b":18.75},{"k":215,"a":19.25,"b":19.5},{"k":215,"a":20.25,"b":20.5},{"k":215,"a":21.25,"b":21.5},{"k":215,"a":22.9,"b":23.1}
]},
"data":{"name":"main"},
"transform":[{"lookup":"k","from":{"data":{"name":"days"},"key":"k","fields":["p","d"]}}],
"facet":{"field":"p","type":"nominal","sort":{"field":"k","op":"min"},"header":{"title":null,"labelFontSize":13,"labelFont":"Roboto","labelColor":"#1a1a1a","labelPadding":7}},
"columns":3,
"spacing":{"row":41,"column":59},
"bounds":"flush",
"resolve":{"scale":{"y":"independent"},"axis":{"y":"independent"}},
"spec":{
"width":293,"height":167,
"layer":[
{"transform":[{"filter":"datum.g==1"}],"mark":{"type":"rule","color":"#ebebeb","strokeWidth":1.1},
 "encoding":{"y":{"field":"d","type":"ordinal","sort":{"field":"k","op":"min"},"scale":{"paddingInner":0,"paddingOuter":0.215},"title":null}}},
{"transform":[{"filter":"isValid(datum.a)"}],"mark":{"type":"rect","color":"#333333"},
 "encoding":{"x":{"field":"a","type":"quantitative","scale":{"domain":[-1.2,25.2],"nice":false,"zero":false},"axis":{"values":[0,6,12,18,24],"format":"d"},"title":null},
  "x2":{"field":"b"},
  "y":{"field":"d","type":"ordinal","sort":{"field":"k","op":"min"},"scale":{"paddingInner":0,"paddingOuter":0.215},"title":null}}},
{"transform":[{"filter":"isValid(datum.r)"}],"mark":{"type":"rule","color":"#a0a0a0","strokeWidth":1.3,"strokeDash":[5,3.5]},
 "encoding":{"x":{"field":"r","type":"quantitative","title":null}}},
{"transform":[{"filter":"isValid(datum.s)"}],"mark":{"type":"text","align":"right","baseline":"middle","dx":-3,"dy":-12,"fontSize":15,"font":"Roboto"},
 "encoding":{"x":{"datum":25.2},
  "y":{"field":"d","type":"ordinal","sort":{"field":"k","op":"min"},"scale":{"paddingInner":0,"paddingOuter":0.215},"title":null},
  "text":{"field":"s"},
  "color":{"field":"s","type":"nominal","scale":{"domain":["F","M"],"range":["#F8766D","#00BFC4"]},"legend":null}}}
]},
"config":{
 "view":{"stroke":"#8a8a8a","strokeWidth":1},
 "axis":{"labelFont":"Roboto","labelFontSize":13,"labelColor":"#4d4d4d","tickColor":"#333333","tickSize":4,"domain":false,"grid":false,"labelPadding":2},
 "axisX":{"labelPadding":3}
}
}
